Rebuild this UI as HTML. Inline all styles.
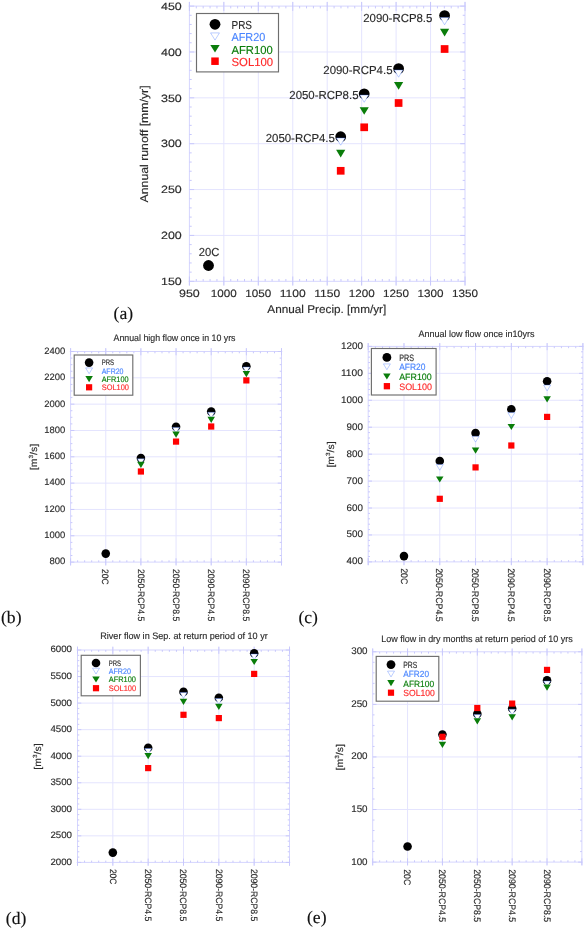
<!DOCTYPE html>
<html><head><meta charset="utf-8"><title>Figure</title>
<style>
html,body{margin:0;padding:0;background:#fff;}
body{width:585px;height:928px;overflow:hidden;font-family:"Liberation Sans",sans-serif;}
svg{display:block;}

</style></head><body>
<svg width="585" height="928" viewBox="0 0 585 928">
<rect width="585" height="928" fill="#fff"/>
<g opacity="0.999">
<line x1="223.85" y1="1.90" x2="223.85" y2="285.50" stroke="#e4e4fe" stroke-width="1"/>
<line x1="258.30" y1="1.90" x2="258.30" y2="285.50" stroke="#e4e4fe" stroke-width="1"/>
<line x1="292.75" y1="1.90" x2="292.75" y2="285.50" stroke="#e4e4fe" stroke-width="1"/>
<line x1="327.20" y1="1.90" x2="327.20" y2="285.50" stroke="#e4e4fe" stroke-width="1"/>
<line x1="361.65" y1="1.90" x2="361.65" y2="285.50" stroke="#e4e4fe" stroke-width="1"/>
<line x1="396.10" y1="1.90" x2="396.10" y2="285.50" stroke="#e4e4fe" stroke-width="1"/>
<line x1="430.55" y1="1.90" x2="430.55" y2="285.50" stroke="#e4e4fe" stroke-width="1"/>
<line x1="189.40" y1="235.43" x2="465.00" y2="235.43" stroke="#e4e4fe" stroke-width="1"/>
<line x1="189.40" y1="189.57" x2="465.00" y2="189.57" stroke="#e4e4fe" stroke-width="1"/>
<line x1="189.40" y1="143.70" x2="465.00" y2="143.70" stroke="#e4e4fe" stroke-width="1"/>
<line x1="189.40" y1="97.83" x2="465.00" y2="97.83" stroke="#e4e4fe" stroke-width="1"/>
<line x1="189.40" y1="51.97" x2="465.00" y2="51.97" stroke="#e4e4fe" stroke-width="1"/>
<line x1="189.40" y1="1.90" x2="189.40" y2="285.50" stroke="#d5d5fe" stroke-width="1"/>
<line x1="465.00" y1="1.90" x2="465.00" y2="285.50" stroke="#d5d5fe" stroke-width="1"/>
<line x1="188.60" y1="6.10" x2="465.80" y2="6.10" stroke="#d5d5fe" stroke-width="1"/>
<line x1="188.60" y1="281.30" x2="465.80" y2="281.30" stroke="#d5d5fe" stroke-width="1"/>
<line x1="189.40" y1="281.30" x2="194.20" y2="281.30" stroke="#c8c8fc" stroke-width="1"/>
<line x1="465.00" y1="281.30" x2="460.20" y2="281.30" stroke="#c8c8fc" stroke-width="1"/>
<line x1="189.40" y1="235.43" x2="194.20" y2="235.43" stroke="#c8c8fc" stroke-width="1"/>
<line x1="465.00" y1="235.43" x2="460.20" y2="235.43" stroke="#c8c8fc" stroke-width="1"/>
<line x1="189.40" y1="189.57" x2="194.20" y2="189.57" stroke="#c8c8fc" stroke-width="1"/>
<line x1="465.00" y1="189.57" x2="460.20" y2="189.57" stroke="#c8c8fc" stroke-width="1"/>
<line x1="189.40" y1="143.70" x2="194.20" y2="143.70" stroke="#c8c8fc" stroke-width="1"/>
<line x1="465.00" y1="143.70" x2="460.20" y2="143.70" stroke="#c8c8fc" stroke-width="1"/>
<line x1="189.40" y1="97.83" x2="194.20" y2="97.83" stroke="#c8c8fc" stroke-width="1"/>
<line x1="465.00" y1="97.83" x2="460.20" y2="97.83" stroke="#c8c8fc" stroke-width="1"/>
<line x1="189.40" y1="51.97" x2="194.20" y2="51.97" stroke="#c8c8fc" stroke-width="1"/>
<line x1="465.00" y1="51.97" x2="460.20" y2="51.97" stroke="#c8c8fc" stroke-width="1"/>
<line x1="189.40" y1="6.10" x2="194.20" y2="6.10" stroke="#c8c8fc" stroke-width="1"/>
<line x1="465.00" y1="6.10" x2="460.20" y2="6.10" stroke="#c8c8fc" stroke-width="1"/>
<line x1="189.40" y1="1.90" x2="189.40" y2="10.90" stroke="#c8c8fc" stroke-width="1"/>
<line x1="189.40" y1="285.50" x2="189.40" y2="276.50" stroke="#c8c8fc" stroke-width="1"/>
<line x1="223.85" y1="1.90" x2="223.85" y2="10.90" stroke="#c8c8fc" stroke-width="1"/>
<line x1="223.85" y1="285.50" x2="223.85" y2="276.50" stroke="#c8c8fc" stroke-width="1"/>
<line x1="258.30" y1="1.90" x2="258.30" y2="10.90" stroke="#c8c8fc" stroke-width="1"/>
<line x1="258.30" y1="285.50" x2="258.30" y2="276.50" stroke="#c8c8fc" stroke-width="1"/>
<line x1="292.75" y1="1.90" x2="292.75" y2="10.90" stroke="#c8c8fc" stroke-width="1"/>
<line x1="292.75" y1="285.50" x2="292.75" y2="276.50" stroke="#c8c8fc" stroke-width="1"/>
<line x1="327.20" y1="1.90" x2="327.20" y2="10.90" stroke="#c8c8fc" stroke-width="1"/>
<line x1="327.20" y1="285.50" x2="327.20" y2="276.50" stroke="#c8c8fc" stroke-width="1"/>
<line x1="361.65" y1="1.90" x2="361.65" y2="10.90" stroke="#c8c8fc" stroke-width="1"/>
<line x1="361.65" y1="285.50" x2="361.65" y2="276.50" stroke="#c8c8fc" stroke-width="1"/>
<line x1="396.10" y1="1.90" x2="396.10" y2="10.90" stroke="#c8c8fc" stroke-width="1"/>
<line x1="396.10" y1="285.50" x2="396.10" y2="276.50" stroke="#c8c8fc" stroke-width="1"/>
<line x1="430.55" y1="1.90" x2="430.55" y2="10.90" stroke="#c8c8fc" stroke-width="1"/>
<line x1="430.55" y1="285.50" x2="430.55" y2="276.50" stroke="#c8c8fc" stroke-width="1"/>
<line x1="465.00" y1="1.90" x2="465.00" y2="10.90" stroke="#c8c8fc" stroke-width="1"/>
<line x1="465.00" y1="285.50" x2="465.00" y2="276.50" stroke="#c8c8fc" stroke-width="1"/>
<line x1="189.40" y1="272.13" x2="191.70" y2="272.13" stroke="#c8c8fc" stroke-width="1"/>
<line x1="465.00" y1="272.13" x2="462.70" y2="272.13" stroke="#c8c8fc" stroke-width="1"/>
<line x1="189.40" y1="262.95" x2="191.70" y2="262.95" stroke="#c8c8fc" stroke-width="1"/>
<line x1="465.00" y1="262.95" x2="462.70" y2="262.95" stroke="#c8c8fc" stroke-width="1"/>
<line x1="189.40" y1="253.78" x2="191.70" y2="253.78" stroke="#c8c8fc" stroke-width="1"/>
<line x1="465.00" y1="253.78" x2="462.70" y2="253.78" stroke="#c8c8fc" stroke-width="1"/>
<line x1="189.40" y1="244.61" x2="191.70" y2="244.61" stroke="#c8c8fc" stroke-width="1"/>
<line x1="465.00" y1="244.61" x2="462.70" y2="244.61" stroke="#c8c8fc" stroke-width="1"/>
<line x1="189.40" y1="226.26" x2="191.70" y2="226.26" stroke="#c8c8fc" stroke-width="1"/>
<line x1="465.00" y1="226.26" x2="462.70" y2="226.26" stroke="#c8c8fc" stroke-width="1"/>
<line x1="189.40" y1="217.09" x2="191.70" y2="217.09" stroke="#c8c8fc" stroke-width="1"/>
<line x1="465.00" y1="217.09" x2="462.70" y2="217.09" stroke="#c8c8fc" stroke-width="1"/>
<line x1="189.40" y1="207.91" x2="191.70" y2="207.91" stroke="#c8c8fc" stroke-width="1"/>
<line x1="465.00" y1="207.91" x2="462.70" y2="207.91" stroke="#c8c8fc" stroke-width="1"/>
<line x1="189.40" y1="198.74" x2="191.70" y2="198.74" stroke="#c8c8fc" stroke-width="1"/>
<line x1="465.00" y1="198.74" x2="462.70" y2="198.74" stroke="#c8c8fc" stroke-width="1"/>
<line x1="189.40" y1="180.39" x2="191.70" y2="180.39" stroke="#c8c8fc" stroke-width="1"/>
<line x1="465.00" y1="180.39" x2="462.70" y2="180.39" stroke="#c8c8fc" stroke-width="1"/>
<line x1="189.40" y1="171.22" x2="191.70" y2="171.22" stroke="#c8c8fc" stroke-width="1"/>
<line x1="465.00" y1="171.22" x2="462.70" y2="171.22" stroke="#c8c8fc" stroke-width="1"/>
<line x1="189.40" y1="162.05" x2="191.70" y2="162.05" stroke="#c8c8fc" stroke-width="1"/>
<line x1="465.00" y1="162.05" x2="462.70" y2="162.05" stroke="#c8c8fc" stroke-width="1"/>
<line x1="189.40" y1="152.87" x2="191.70" y2="152.87" stroke="#c8c8fc" stroke-width="1"/>
<line x1="465.00" y1="152.87" x2="462.70" y2="152.87" stroke="#c8c8fc" stroke-width="1"/>
<line x1="189.40" y1="134.53" x2="191.70" y2="134.53" stroke="#c8c8fc" stroke-width="1"/>
<line x1="465.00" y1="134.53" x2="462.70" y2="134.53" stroke="#c8c8fc" stroke-width="1"/>
<line x1="189.40" y1="125.35" x2="191.70" y2="125.35" stroke="#c8c8fc" stroke-width="1"/>
<line x1="465.00" y1="125.35" x2="462.70" y2="125.35" stroke="#c8c8fc" stroke-width="1"/>
<line x1="189.40" y1="116.18" x2="191.70" y2="116.18" stroke="#c8c8fc" stroke-width="1"/>
<line x1="465.00" y1="116.18" x2="462.70" y2="116.18" stroke="#c8c8fc" stroke-width="1"/>
<line x1="189.40" y1="107.01" x2="191.70" y2="107.01" stroke="#c8c8fc" stroke-width="1"/>
<line x1="465.00" y1="107.01" x2="462.70" y2="107.01" stroke="#c8c8fc" stroke-width="1"/>
<line x1="189.40" y1="88.66" x2="191.70" y2="88.66" stroke="#c8c8fc" stroke-width="1"/>
<line x1="465.00" y1="88.66" x2="462.70" y2="88.66" stroke="#c8c8fc" stroke-width="1"/>
<line x1="189.40" y1="79.49" x2="191.70" y2="79.49" stroke="#c8c8fc" stroke-width="1"/>
<line x1="465.00" y1="79.49" x2="462.70" y2="79.49" stroke="#c8c8fc" stroke-width="1"/>
<line x1="189.40" y1="70.31" x2="191.70" y2="70.31" stroke="#c8c8fc" stroke-width="1"/>
<line x1="465.00" y1="70.31" x2="462.70" y2="70.31" stroke="#c8c8fc" stroke-width="1"/>
<line x1="189.40" y1="61.14" x2="191.70" y2="61.14" stroke="#c8c8fc" stroke-width="1"/>
<line x1="465.00" y1="61.14" x2="462.70" y2="61.14" stroke="#c8c8fc" stroke-width="1"/>
<line x1="189.40" y1="42.79" x2="191.70" y2="42.79" stroke="#c8c8fc" stroke-width="1"/>
<line x1="465.00" y1="42.79" x2="462.70" y2="42.79" stroke="#c8c8fc" stroke-width="1"/>
<line x1="189.40" y1="33.62" x2="191.70" y2="33.62" stroke="#c8c8fc" stroke-width="1"/>
<line x1="465.00" y1="33.62" x2="462.70" y2="33.62" stroke="#c8c8fc" stroke-width="1"/>
<line x1="189.40" y1="24.45" x2="191.70" y2="24.45" stroke="#c8c8fc" stroke-width="1"/>
<line x1="465.00" y1="24.45" x2="462.70" y2="24.45" stroke="#c8c8fc" stroke-width="1"/>
<line x1="189.40" y1="15.27" x2="191.70" y2="15.27" stroke="#c8c8fc" stroke-width="1"/>
<line x1="465.00" y1="15.27" x2="462.70" y2="15.27" stroke="#c8c8fc" stroke-width="1"/>
<line x1="196.29" y1="6.10" x2="196.29" y2="8.40" stroke="#c8c8fc" stroke-width="1"/>
<line x1="196.29" y1="281.30" x2="196.29" y2="279.00" stroke="#c8c8fc" stroke-width="1"/>
<line x1="203.18" y1="6.10" x2="203.18" y2="8.40" stroke="#c8c8fc" stroke-width="1"/>
<line x1="203.18" y1="281.30" x2="203.18" y2="279.00" stroke="#c8c8fc" stroke-width="1"/>
<line x1="210.07" y1="6.10" x2="210.07" y2="8.40" stroke="#c8c8fc" stroke-width="1"/>
<line x1="210.07" y1="281.30" x2="210.07" y2="279.00" stroke="#c8c8fc" stroke-width="1"/>
<line x1="216.96" y1="6.10" x2="216.96" y2="8.40" stroke="#c8c8fc" stroke-width="1"/>
<line x1="216.96" y1="281.30" x2="216.96" y2="279.00" stroke="#c8c8fc" stroke-width="1"/>
<line x1="230.74" y1="6.10" x2="230.74" y2="8.40" stroke="#c8c8fc" stroke-width="1"/>
<line x1="230.74" y1="281.30" x2="230.74" y2="279.00" stroke="#c8c8fc" stroke-width="1"/>
<line x1="237.63" y1="6.10" x2="237.63" y2="8.40" stroke="#c8c8fc" stroke-width="1"/>
<line x1="237.63" y1="281.30" x2="237.63" y2="279.00" stroke="#c8c8fc" stroke-width="1"/>
<line x1="244.52" y1="6.10" x2="244.52" y2="8.40" stroke="#c8c8fc" stroke-width="1"/>
<line x1="244.52" y1="281.30" x2="244.52" y2="279.00" stroke="#c8c8fc" stroke-width="1"/>
<line x1="251.41" y1="6.10" x2="251.41" y2="8.40" stroke="#c8c8fc" stroke-width="1"/>
<line x1="251.41" y1="281.30" x2="251.41" y2="279.00" stroke="#c8c8fc" stroke-width="1"/>
<line x1="265.19" y1="6.10" x2="265.19" y2="8.40" stroke="#c8c8fc" stroke-width="1"/>
<line x1="265.19" y1="281.30" x2="265.19" y2="279.00" stroke="#c8c8fc" stroke-width="1"/>
<line x1="272.08" y1="6.10" x2="272.08" y2="8.40" stroke="#c8c8fc" stroke-width="1"/>
<line x1="272.08" y1="281.30" x2="272.08" y2="279.00" stroke="#c8c8fc" stroke-width="1"/>
<line x1="278.97" y1="6.10" x2="278.97" y2="8.40" stroke="#c8c8fc" stroke-width="1"/>
<line x1="278.97" y1="281.30" x2="278.97" y2="279.00" stroke="#c8c8fc" stroke-width="1"/>
<line x1="285.86" y1="6.10" x2="285.86" y2="8.40" stroke="#c8c8fc" stroke-width="1"/>
<line x1="285.86" y1="281.30" x2="285.86" y2="279.00" stroke="#c8c8fc" stroke-width="1"/>
<line x1="299.64" y1="6.10" x2="299.64" y2="8.40" stroke="#c8c8fc" stroke-width="1"/>
<line x1="299.64" y1="281.30" x2="299.64" y2="279.00" stroke="#c8c8fc" stroke-width="1"/>
<line x1="306.53" y1="6.10" x2="306.53" y2="8.40" stroke="#c8c8fc" stroke-width="1"/>
<line x1="306.53" y1="281.30" x2="306.53" y2="279.00" stroke="#c8c8fc" stroke-width="1"/>
<line x1="313.42" y1="6.10" x2="313.42" y2="8.40" stroke="#c8c8fc" stroke-width="1"/>
<line x1="313.42" y1="281.30" x2="313.42" y2="279.00" stroke="#c8c8fc" stroke-width="1"/>
<line x1="320.31" y1="6.10" x2="320.31" y2="8.40" stroke="#c8c8fc" stroke-width="1"/>
<line x1="320.31" y1="281.30" x2="320.31" y2="279.00" stroke="#c8c8fc" stroke-width="1"/>
<line x1="334.09" y1="6.10" x2="334.09" y2="8.40" stroke="#c8c8fc" stroke-width="1"/>
<line x1="334.09" y1="281.30" x2="334.09" y2="279.00" stroke="#c8c8fc" stroke-width="1"/>
<line x1="340.98" y1="6.10" x2="340.98" y2="8.40" stroke="#c8c8fc" stroke-width="1"/>
<line x1="340.98" y1="281.30" x2="340.98" y2="279.00" stroke="#c8c8fc" stroke-width="1"/>
<line x1="347.87" y1="6.10" x2="347.87" y2="8.40" stroke="#c8c8fc" stroke-width="1"/>
<line x1="347.87" y1="281.30" x2="347.87" y2="279.00" stroke="#c8c8fc" stroke-width="1"/>
<line x1="354.76" y1="6.10" x2="354.76" y2="8.40" stroke="#c8c8fc" stroke-width="1"/>
<line x1="354.76" y1="281.30" x2="354.76" y2="279.00" stroke="#c8c8fc" stroke-width="1"/>
<line x1="368.54" y1="6.10" x2="368.54" y2="8.40" stroke="#c8c8fc" stroke-width="1"/>
<line x1="368.54" y1="281.30" x2="368.54" y2="279.00" stroke="#c8c8fc" stroke-width="1"/>
<line x1="375.43" y1="6.10" x2="375.43" y2="8.40" stroke="#c8c8fc" stroke-width="1"/>
<line x1="375.43" y1="281.30" x2="375.43" y2="279.00" stroke="#c8c8fc" stroke-width="1"/>
<line x1="382.32" y1="6.10" x2="382.32" y2="8.40" stroke="#c8c8fc" stroke-width="1"/>
<line x1="382.32" y1="281.30" x2="382.32" y2="279.00" stroke="#c8c8fc" stroke-width="1"/>
<line x1="389.21" y1="6.10" x2="389.21" y2="8.40" stroke="#c8c8fc" stroke-width="1"/>
<line x1="389.21" y1="281.30" x2="389.21" y2="279.00" stroke="#c8c8fc" stroke-width="1"/>
<line x1="402.99" y1="6.10" x2="402.99" y2="8.40" stroke="#c8c8fc" stroke-width="1"/>
<line x1="402.99" y1="281.30" x2="402.99" y2="279.00" stroke="#c8c8fc" stroke-width="1"/>
<line x1="409.88" y1="6.10" x2="409.88" y2="8.40" stroke="#c8c8fc" stroke-width="1"/>
<line x1="409.88" y1="281.30" x2="409.88" y2="279.00" stroke="#c8c8fc" stroke-width="1"/>
<line x1="416.77" y1="6.10" x2="416.77" y2="8.40" stroke="#c8c8fc" stroke-width="1"/>
<line x1="416.77" y1="281.30" x2="416.77" y2="279.00" stroke="#c8c8fc" stroke-width="1"/>
<line x1="423.66" y1="6.10" x2="423.66" y2="8.40" stroke="#c8c8fc" stroke-width="1"/>
<line x1="423.66" y1="281.30" x2="423.66" y2="279.00" stroke="#c8c8fc" stroke-width="1"/>
<line x1="437.44" y1="6.10" x2="437.44" y2="8.40" stroke="#c8c8fc" stroke-width="1"/>
<line x1="437.44" y1="281.30" x2="437.44" y2="279.00" stroke="#c8c8fc" stroke-width="1"/>
<line x1="444.33" y1="6.10" x2="444.33" y2="8.40" stroke="#c8c8fc" stroke-width="1"/>
<line x1="444.33" y1="281.30" x2="444.33" y2="279.00" stroke="#c8c8fc" stroke-width="1"/>
<line x1="451.22" y1="6.10" x2="451.22" y2="8.40" stroke="#c8c8fc" stroke-width="1"/>
<line x1="451.22" y1="281.30" x2="451.22" y2="279.00" stroke="#c8c8fc" stroke-width="1"/>
<line x1="458.11" y1="6.10" x2="458.11" y2="8.40" stroke="#c8c8fc" stroke-width="1"/>
<line x1="458.11" y1="281.30" x2="458.11" y2="279.00" stroke="#c8c8fc" stroke-width="1"/>
<text x="181.80" y="285.00" font-size="10.6" text-anchor="end" fill="#2b2b2b" stroke="#2b2b2b" stroke-width="0.15" font-family="Liberation Sans" text-rendering="geometricPrecision" textLength="20.80" lengthAdjust="spacingAndGlyphs">150</text>
<text x="181.80" y="239.13" font-size="10.6" text-anchor="end" fill="#2b2b2b" stroke="#2b2b2b" stroke-width="0.15" font-family="Liberation Sans" text-rendering="geometricPrecision" textLength="20.80" lengthAdjust="spacingAndGlyphs">200</text>
<text x="181.80" y="193.27" font-size="10.6" text-anchor="end" fill="#2b2b2b" stroke="#2b2b2b" stroke-width="0.15" font-family="Liberation Sans" text-rendering="geometricPrecision" textLength="20.80" lengthAdjust="spacingAndGlyphs">250</text>
<text x="181.80" y="147.40" font-size="10.6" text-anchor="end" fill="#2b2b2b" stroke="#2b2b2b" stroke-width="0.15" font-family="Liberation Sans" text-rendering="geometricPrecision" textLength="20.80" lengthAdjust="spacingAndGlyphs">300</text>
<text x="181.80" y="101.53" font-size="10.6" text-anchor="end" fill="#2b2b2b" stroke="#2b2b2b" stroke-width="0.15" font-family="Liberation Sans" text-rendering="geometricPrecision" textLength="20.80" lengthAdjust="spacingAndGlyphs">350</text>
<text x="181.80" y="55.67" font-size="10.6" text-anchor="end" fill="#2b2b2b" stroke="#2b2b2b" stroke-width="0.15" font-family="Liberation Sans" text-rendering="geometricPrecision" textLength="20.80" lengthAdjust="spacingAndGlyphs">400</text>
<text x="181.80" y="9.80" font-size="10.6" text-anchor="end" fill="#2b2b2b" stroke="#2b2b2b" stroke-width="0.15" font-family="Liberation Sans" text-rendering="geometricPrecision" textLength="20.80" lengthAdjust="spacingAndGlyphs">450</text>
<text x="189.40" y="296.50" font-size="10.6" text-anchor="middle" fill="#2b2b2b" stroke="#2b2b2b" stroke-width="0.15" font-family="Liberation Sans" text-rendering="geometricPrecision" textLength="20.80" lengthAdjust="spacingAndGlyphs">950</text>
<text x="223.85" y="296.50" font-size="10.6" text-anchor="middle" fill="#2b2b2b" stroke="#2b2b2b" stroke-width="0.15" font-family="Liberation Sans" text-rendering="geometricPrecision" textLength="26.00" lengthAdjust="spacingAndGlyphs">1000</text>
<text x="258.30" y="296.50" font-size="10.6" text-anchor="middle" fill="#2b2b2b" stroke="#2b2b2b" stroke-width="0.15" font-family="Liberation Sans" text-rendering="geometricPrecision" textLength="26.00" lengthAdjust="spacingAndGlyphs">1050</text>
<text x="292.75" y="296.50" font-size="10.6" text-anchor="middle" fill="#2b2b2b" stroke="#2b2b2b" stroke-width="0.15" font-family="Liberation Sans" text-rendering="geometricPrecision" textLength="26.00" lengthAdjust="spacingAndGlyphs">1100</text>
<text x="327.20" y="296.50" font-size="10.6" text-anchor="middle" fill="#2b2b2b" stroke="#2b2b2b" stroke-width="0.15" font-family="Liberation Sans" text-rendering="geometricPrecision" textLength="26.00" lengthAdjust="spacingAndGlyphs">1150</text>
<text x="361.65" y="296.50" font-size="10.6" text-anchor="middle" fill="#2b2b2b" stroke="#2b2b2b" stroke-width="0.15" font-family="Liberation Sans" text-rendering="geometricPrecision" textLength="26.00" lengthAdjust="spacingAndGlyphs">1200</text>
<text x="396.10" y="296.50" font-size="10.6" text-anchor="middle" fill="#2b2b2b" stroke="#2b2b2b" stroke-width="0.15" font-family="Liberation Sans" text-rendering="geometricPrecision" textLength="26.00" lengthAdjust="spacingAndGlyphs">1250</text>
<text x="430.55" y="296.50" font-size="10.6" text-anchor="middle" fill="#2b2b2b" stroke="#2b2b2b" stroke-width="0.15" font-family="Liberation Sans" text-rendering="geometricPrecision" textLength="26.00" lengthAdjust="spacingAndGlyphs">1300</text>
<text x="465.00" y="296.50" font-size="10.6" text-anchor="middle" fill="#2b2b2b" stroke="#2b2b2b" stroke-width="0.15" font-family="Liberation Sans" text-rendering="geometricPrecision" textLength="26.00" lengthAdjust="spacingAndGlyphs">1350</text>
<text x="147.90" y="143.90" font-size="11.3" text-anchor="middle" fill="#2b2b2b" stroke="#2b2b2b" stroke-width="0.15" font-family="Liberation Sans" text-rendering="geometricPrecision" textLength="117.00" lengthAdjust="spacingAndGlyphs" transform="rotate(-90 147.90 143.90)">Annual runoff [mm/yr]</text>
<text x="326.80" y="312.60" font-size="11.3" text-anchor="middle" fill="#2b2b2b" stroke="#2b2b2b" stroke-width="0.15" font-family="Liberation Sans" text-rendering="geometricPrecision" textLength="119.00" lengthAdjust="spacingAndGlyphs">Annual Precip. [mm/yr]</text>
<text x="198.70" y="255.60" font-size="11.6" text-anchor="start" fill="#2b2b2b" stroke="#2b2b2b" stroke-width="0.15" font-family="Liberation Sans" text-rendering="geometricPrecision" textLength="20.60" lengthAdjust="spacingAndGlyphs">20C</text>
<text x="334.90" y="142.00" font-size="11.6" text-anchor="end" fill="#2b2b2b" stroke="#2b2b2b" stroke-width="0.15" font-family="Liberation Sans" text-rendering="geometricPrecision" textLength="69.20" lengthAdjust="spacingAndGlyphs">2050-RCP4.5</text>
<text x="358.50" y="99.00" font-size="11.6" text-anchor="end" fill="#2b2b2b" stroke="#2b2b2b" stroke-width="0.15" font-family="Liberation Sans" text-rendering="geometricPrecision" textLength="69.20" lengthAdjust="spacingAndGlyphs">2050-RCP8.5</text>
<text x="392.50" y="74.00" font-size="11.6" text-anchor="end" fill="#2b2b2b" stroke="#2b2b2b" stroke-width="0.15" font-family="Liberation Sans" text-rendering="geometricPrecision" textLength="69.20" lengthAdjust="spacingAndGlyphs">2090-RCP4.5</text>
<text x="432.40" y="21.90" font-size="11.6" text-anchor="end" fill="#2b2b2b" stroke="#2b2b2b" stroke-width="0.15" font-family="Liberation Sans" text-rendering="geometricPrecision" textLength="69.20" lengthAdjust="spacingAndGlyphs">2090-RCP8.5</text>
<rect x="196.50" y="13.50" width="82.00" height="58.40" fill="#fff" stroke="#6e6e6e" stroke-width="1.15"/>
<circle cx="215.00" cy="24.30" r="5.40" fill="#000"/>
<polygon points="210.55,32.90 219.45,32.90 215.00,40.10" fill="#fff" stroke="rgba(70,120,255,0.36)" stroke-width="1.0" stroke-linejoin="miter"/>
<polygon points="210.30,45.00 219.70,45.00 215.00,52.60" fill="#0a7d0a"/>
<rect x="211.25" y="57.45" width="7.50" height="7.50" fill="#ff0000"/>
<text x="231.50" y="29.00" font-size="11.6" text-anchor="start" fill="#2b2b2b" stroke="#2b2b2b" stroke-width="0.15" font-family="Liberation Sans" text-rendering="geometricPrecision" textLength="20.50" lengthAdjust="spacingAndGlyphs">PRS</text>
<text x="231.50" y="41.30" font-size="11.6" text-anchor="start" fill="#4a86ff" stroke="#4a86ff" stroke-width="0.15" font-family="Liberation Sans" text-rendering="geometricPrecision" textLength="33.80" lengthAdjust="spacingAndGlyphs">AFR20</text>
<text x="231.50" y="53.60" font-size="11.6" text-anchor="start" fill="#0a7d0a" stroke="#0a7d0a" stroke-width="0.15" font-family="Liberation Sans" text-rendering="geometricPrecision" textLength="41.20" lengthAdjust="spacingAndGlyphs">AFR100</text>
<text x="231.50" y="65.90" font-size="11.6" text-anchor="start" fill="#ff2a2a" stroke="#ff2a2a" stroke-width="0.15" font-family="Liberation Sans" text-rendering="geometricPrecision" textLength="41.60" lengthAdjust="spacingAndGlyphs">SOL100</text>
<circle cx="208.50" cy="265.50" r="5.40" fill="#000"/>
<circle cx="340.70" cy="136.70" r="5.40" fill="#000"/>
<polygon points="336.35,138.00 345.05,138.00 340.70,145.20" fill="#fff" stroke="rgba(70,120,255,0.36)" stroke-width="1.0" stroke-linejoin="miter"/>
<polygon points="336.10,149.80 345.30,149.80 340.70,157.40" fill="#0a7d0a"/>
<rect x="336.85" y="166.95" width="7.70" height="7.70" fill="#ff0000"/>
<circle cx="364.20" cy="93.80" r="5.40" fill="#000"/>
<polygon points="359.85,95.10 368.55,95.10 364.20,102.30" fill="#fff" stroke="rgba(70,120,255,0.36)" stroke-width="1.0" stroke-linejoin="miter"/>
<polygon points="359.60,107.20 368.80,107.20 364.20,114.80" fill="#0a7d0a"/>
<rect x="360.35" y="123.45" width="7.70" height="7.70" fill="#ff0000"/>
<circle cx="398.60" cy="68.60" r="5.40" fill="#000"/>
<polygon points="394.25,70.00 402.95,70.00 398.60,77.20" fill="#fff" stroke="rgba(70,120,255,0.36)" stroke-width="1.0" stroke-linejoin="miter"/>
<polygon points="394.00,82.10 403.20,82.10 398.60,89.70" fill="#0a7d0a"/>
<rect x="394.75" y="99.15" width="7.70" height="7.70" fill="#ff0000"/>
<circle cx="444.60" cy="15.60" r="5.40" fill="#000"/>
<polygon points="440.25,17.60 448.95,17.60 444.60,24.80" fill="#fff" stroke="rgba(70,120,255,0.36)" stroke-width="1.0" stroke-linejoin="miter"/>
<polygon points="440.00,28.80 449.20,28.80 444.60,36.40" fill="#0a7d0a"/>
<rect x="440.75" y="45.15" width="7.70" height="7.70" fill="#ff0000"/>
<text x="113.60" y="319.20" font-size="17.6" text-anchor="start" fill="#111" stroke="#111" stroke-width="0.15" font-family="Liberation Serif" text-rendering="geometricPrecision">(a)</text>
<line x1="105.75" y1="348.20" x2="105.75" y2="565.40" stroke="#e4e4fe" stroke-width="1"/>
<line x1="140.90" y1="348.20" x2="140.90" y2="565.40" stroke="#e4e4fe" stroke-width="1"/>
<line x1="176.05" y1="348.20" x2="176.05" y2="565.40" stroke="#e4e4fe" stroke-width="1"/>
<line x1="211.20" y1="348.20" x2="211.20" y2="565.40" stroke="#e4e4fe" stroke-width="1"/>
<line x1="246.35" y1="348.20" x2="246.35" y2="565.40" stroke="#e4e4fe" stroke-width="1"/>
<line x1="70.60" y1="535.77" x2="281.50" y2="535.77" stroke="#e4e4fe" stroke-width="1"/>
<line x1="70.60" y1="509.45" x2="281.50" y2="509.45" stroke="#e4e4fe" stroke-width="1"/>
<line x1="70.60" y1="483.12" x2="281.50" y2="483.12" stroke="#e4e4fe" stroke-width="1"/>
<line x1="70.60" y1="456.80" x2="281.50" y2="456.80" stroke="#e4e4fe" stroke-width="1"/>
<line x1="70.60" y1="430.48" x2="281.50" y2="430.48" stroke="#e4e4fe" stroke-width="1"/>
<line x1="70.60" y1="404.15" x2="281.50" y2="404.15" stroke="#e4e4fe" stroke-width="1"/>
<line x1="70.60" y1="377.82" x2="281.50" y2="377.82" stroke="#e4e4fe" stroke-width="1"/>
<line x1="70.60" y1="348.20" x2="70.60" y2="565.40" stroke="#d5d5fe" stroke-width="1"/>
<line x1="281.50" y1="348.20" x2="281.50" y2="565.40" stroke="#d5d5fe" stroke-width="1"/>
<line x1="69.80" y1="351.50" x2="282.30" y2="351.50" stroke="#d5d5fe" stroke-width="1"/>
<line x1="69.80" y1="562.10" x2="282.30" y2="562.10" stroke="#d5d5fe" stroke-width="1"/>
<line x1="70.60" y1="562.10" x2="74.40" y2="562.10" stroke="#c8c8fc" stroke-width="1"/>
<line x1="281.50" y1="562.10" x2="277.70" y2="562.10" stroke="#c8c8fc" stroke-width="1"/>
<line x1="70.60" y1="535.77" x2="74.40" y2="535.77" stroke="#c8c8fc" stroke-width="1"/>
<line x1="281.50" y1="535.77" x2="277.70" y2="535.77" stroke="#c8c8fc" stroke-width="1"/>
<line x1="70.60" y1="509.45" x2="74.40" y2="509.45" stroke="#c8c8fc" stroke-width="1"/>
<line x1="281.50" y1="509.45" x2="277.70" y2="509.45" stroke="#c8c8fc" stroke-width="1"/>
<line x1="70.60" y1="483.12" x2="74.40" y2="483.12" stroke="#c8c8fc" stroke-width="1"/>
<line x1="281.50" y1="483.12" x2="277.70" y2="483.12" stroke="#c8c8fc" stroke-width="1"/>
<line x1="70.60" y1="456.80" x2="74.40" y2="456.80" stroke="#c8c8fc" stroke-width="1"/>
<line x1="281.50" y1="456.80" x2="277.70" y2="456.80" stroke="#c8c8fc" stroke-width="1"/>
<line x1="70.60" y1="430.48" x2="74.40" y2="430.48" stroke="#c8c8fc" stroke-width="1"/>
<line x1="281.50" y1="430.48" x2="277.70" y2="430.48" stroke="#c8c8fc" stroke-width="1"/>
<line x1="70.60" y1="404.15" x2="74.40" y2="404.15" stroke="#c8c8fc" stroke-width="1"/>
<line x1="281.50" y1="404.15" x2="277.70" y2="404.15" stroke="#c8c8fc" stroke-width="1"/>
<line x1="70.60" y1="377.82" x2="74.40" y2="377.82" stroke="#c8c8fc" stroke-width="1"/>
<line x1="281.50" y1="377.82" x2="277.70" y2="377.82" stroke="#c8c8fc" stroke-width="1"/>
<line x1="70.60" y1="351.50" x2="74.40" y2="351.50" stroke="#c8c8fc" stroke-width="1"/>
<line x1="281.50" y1="351.50" x2="277.70" y2="351.50" stroke="#c8c8fc" stroke-width="1"/>
<line x1="70.60" y1="348.20" x2="70.60" y2="355.30" stroke="#c8c8fc" stroke-width="1"/>
<line x1="70.60" y1="565.40" x2="70.60" y2="558.30" stroke="#c8c8fc" stroke-width="1"/>
<line x1="105.75" y1="348.20" x2="105.75" y2="355.30" stroke="#c8c8fc" stroke-width="1"/>
<line x1="105.75" y1="565.40" x2="105.75" y2="558.30" stroke="#c8c8fc" stroke-width="1"/>
<line x1="140.90" y1="348.20" x2="140.90" y2="355.30" stroke="#c8c8fc" stroke-width="1"/>
<line x1="140.90" y1="565.40" x2="140.90" y2="558.30" stroke="#c8c8fc" stroke-width="1"/>
<line x1="176.05" y1="348.20" x2="176.05" y2="355.30" stroke="#c8c8fc" stroke-width="1"/>
<line x1="176.05" y1="565.40" x2="176.05" y2="558.30" stroke="#c8c8fc" stroke-width="1"/>
<line x1="211.20" y1="348.20" x2="211.20" y2="355.30" stroke="#c8c8fc" stroke-width="1"/>
<line x1="211.20" y1="565.40" x2="211.20" y2="558.30" stroke="#c8c8fc" stroke-width="1"/>
<line x1="246.35" y1="348.20" x2="246.35" y2="355.30" stroke="#c8c8fc" stroke-width="1"/>
<line x1="246.35" y1="565.40" x2="246.35" y2="558.30" stroke="#c8c8fc" stroke-width="1"/>
<line x1="281.50" y1="348.20" x2="281.50" y2="355.30" stroke="#c8c8fc" stroke-width="1"/>
<line x1="281.50" y1="565.40" x2="281.50" y2="558.30" stroke="#c8c8fc" stroke-width="1"/>
<line x1="70.60" y1="555.52" x2="72.40" y2="555.52" stroke="#c8c8fc" stroke-width="1"/>
<line x1="281.50" y1="555.52" x2="279.70" y2="555.52" stroke="#c8c8fc" stroke-width="1"/>
<line x1="70.60" y1="548.94" x2="72.40" y2="548.94" stroke="#c8c8fc" stroke-width="1"/>
<line x1="281.50" y1="548.94" x2="279.70" y2="548.94" stroke="#c8c8fc" stroke-width="1"/>
<line x1="70.60" y1="542.36" x2="72.40" y2="542.36" stroke="#c8c8fc" stroke-width="1"/>
<line x1="281.50" y1="542.36" x2="279.70" y2="542.36" stroke="#c8c8fc" stroke-width="1"/>
<line x1="70.60" y1="529.19" x2="72.40" y2="529.19" stroke="#c8c8fc" stroke-width="1"/>
<line x1="281.50" y1="529.19" x2="279.70" y2="529.19" stroke="#c8c8fc" stroke-width="1"/>
<line x1="70.60" y1="522.61" x2="72.40" y2="522.61" stroke="#c8c8fc" stroke-width="1"/>
<line x1="281.50" y1="522.61" x2="279.70" y2="522.61" stroke="#c8c8fc" stroke-width="1"/>
<line x1="70.60" y1="516.03" x2="72.40" y2="516.03" stroke="#c8c8fc" stroke-width="1"/>
<line x1="281.50" y1="516.03" x2="279.70" y2="516.03" stroke="#c8c8fc" stroke-width="1"/>
<line x1="70.60" y1="502.87" x2="72.40" y2="502.87" stroke="#c8c8fc" stroke-width="1"/>
<line x1="281.50" y1="502.87" x2="279.70" y2="502.87" stroke="#c8c8fc" stroke-width="1"/>
<line x1="70.60" y1="496.29" x2="72.40" y2="496.29" stroke="#c8c8fc" stroke-width="1"/>
<line x1="281.50" y1="496.29" x2="279.70" y2="496.29" stroke="#c8c8fc" stroke-width="1"/>
<line x1="70.60" y1="489.71" x2="72.40" y2="489.71" stroke="#c8c8fc" stroke-width="1"/>
<line x1="281.50" y1="489.71" x2="279.70" y2="489.71" stroke="#c8c8fc" stroke-width="1"/>
<line x1="70.60" y1="476.54" x2="72.40" y2="476.54" stroke="#c8c8fc" stroke-width="1"/>
<line x1="281.50" y1="476.54" x2="279.70" y2="476.54" stroke="#c8c8fc" stroke-width="1"/>
<line x1="70.60" y1="469.96" x2="72.40" y2="469.96" stroke="#c8c8fc" stroke-width="1"/>
<line x1="281.50" y1="469.96" x2="279.70" y2="469.96" stroke="#c8c8fc" stroke-width="1"/>
<line x1="70.60" y1="463.38" x2="72.40" y2="463.38" stroke="#c8c8fc" stroke-width="1"/>
<line x1="281.50" y1="463.38" x2="279.70" y2="463.38" stroke="#c8c8fc" stroke-width="1"/>
<line x1="70.60" y1="450.22" x2="72.40" y2="450.22" stroke="#c8c8fc" stroke-width="1"/>
<line x1="281.50" y1="450.22" x2="279.70" y2="450.22" stroke="#c8c8fc" stroke-width="1"/>
<line x1="70.60" y1="443.64" x2="72.40" y2="443.64" stroke="#c8c8fc" stroke-width="1"/>
<line x1="281.50" y1="443.64" x2="279.70" y2="443.64" stroke="#c8c8fc" stroke-width="1"/>
<line x1="70.60" y1="437.06" x2="72.40" y2="437.06" stroke="#c8c8fc" stroke-width="1"/>
<line x1="281.50" y1="437.06" x2="279.70" y2="437.06" stroke="#c8c8fc" stroke-width="1"/>
<line x1="70.60" y1="423.89" x2="72.40" y2="423.89" stroke="#c8c8fc" stroke-width="1"/>
<line x1="281.50" y1="423.89" x2="279.70" y2="423.89" stroke="#c8c8fc" stroke-width="1"/>
<line x1="70.60" y1="417.31" x2="72.40" y2="417.31" stroke="#c8c8fc" stroke-width="1"/>
<line x1="281.50" y1="417.31" x2="279.70" y2="417.31" stroke="#c8c8fc" stroke-width="1"/>
<line x1="70.60" y1="410.73" x2="72.40" y2="410.73" stroke="#c8c8fc" stroke-width="1"/>
<line x1="281.50" y1="410.73" x2="279.70" y2="410.73" stroke="#c8c8fc" stroke-width="1"/>
<line x1="70.60" y1="397.57" x2="72.40" y2="397.57" stroke="#c8c8fc" stroke-width="1"/>
<line x1="281.50" y1="397.57" x2="279.70" y2="397.57" stroke="#c8c8fc" stroke-width="1"/>
<line x1="70.60" y1="390.99" x2="72.40" y2="390.99" stroke="#c8c8fc" stroke-width="1"/>
<line x1="281.50" y1="390.99" x2="279.70" y2="390.99" stroke="#c8c8fc" stroke-width="1"/>
<line x1="70.60" y1="384.41" x2="72.40" y2="384.41" stroke="#c8c8fc" stroke-width="1"/>
<line x1="281.50" y1="384.41" x2="279.70" y2="384.41" stroke="#c8c8fc" stroke-width="1"/>
<line x1="70.60" y1="371.24" x2="72.40" y2="371.24" stroke="#c8c8fc" stroke-width="1"/>
<line x1="281.50" y1="371.24" x2="279.70" y2="371.24" stroke="#c8c8fc" stroke-width="1"/>
<line x1="70.60" y1="364.66" x2="72.40" y2="364.66" stroke="#c8c8fc" stroke-width="1"/>
<line x1="281.50" y1="364.66" x2="279.70" y2="364.66" stroke="#c8c8fc" stroke-width="1"/>
<line x1="70.60" y1="358.08" x2="72.40" y2="358.08" stroke="#c8c8fc" stroke-width="1"/>
<line x1="281.50" y1="358.08" x2="279.70" y2="358.08" stroke="#c8c8fc" stroke-width="1"/>
<line x1="77.63" y1="351.50" x2="77.63" y2="353.30" stroke="#c8c8fc" stroke-width="1"/>
<line x1="77.63" y1="562.10" x2="77.63" y2="560.30" stroke="#c8c8fc" stroke-width="1"/>
<line x1="84.66" y1="351.50" x2="84.66" y2="353.30" stroke="#c8c8fc" stroke-width="1"/>
<line x1="84.66" y1="562.10" x2="84.66" y2="560.30" stroke="#c8c8fc" stroke-width="1"/>
<line x1="91.69" y1="351.50" x2="91.69" y2="353.30" stroke="#c8c8fc" stroke-width="1"/>
<line x1="91.69" y1="562.10" x2="91.69" y2="560.30" stroke="#c8c8fc" stroke-width="1"/>
<line x1="98.72" y1="351.50" x2="98.72" y2="353.30" stroke="#c8c8fc" stroke-width="1"/>
<line x1="98.72" y1="562.10" x2="98.72" y2="560.30" stroke="#c8c8fc" stroke-width="1"/>
<line x1="112.78" y1="351.50" x2="112.78" y2="353.30" stroke="#c8c8fc" stroke-width="1"/>
<line x1="112.78" y1="562.10" x2="112.78" y2="560.30" stroke="#c8c8fc" stroke-width="1"/>
<line x1="119.81" y1="351.50" x2="119.81" y2="353.30" stroke="#c8c8fc" stroke-width="1"/>
<line x1="119.81" y1="562.10" x2="119.81" y2="560.30" stroke="#c8c8fc" stroke-width="1"/>
<line x1="126.84" y1="351.50" x2="126.84" y2="353.30" stroke="#c8c8fc" stroke-width="1"/>
<line x1="126.84" y1="562.10" x2="126.84" y2="560.30" stroke="#c8c8fc" stroke-width="1"/>
<line x1="133.87" y1="351.50" x2="133.87" y2="353.30" stroke="#c8c8fc" stroke-width="1"/>
<line x1="133.87" y1="562.10" x2="133.87" y2="560.30" stroke="#c8c8fc" stroke-width="1"/>
<line x1="147.93" y1="351.50" x2="147.93" y2="353.30" stroke="#c8c8fc" stroke-width="1"/>
<line x1="147.93" y1="562.10" x2="147.93" y2="560.30" stroke="#c8c8fc" stroke-width="1"/>
<line x1="154.96" y1="351.50" x2="154.96" y2="353.30" stroke="#c8c8fc" stroke-width="1"/>
<line x1="154.96" y1="562.10" x2="154.96" y2="560.30" stroke="#c8c8fc" stroke-width="1"/>
<line x1="161.99" y1="351.50" x2="161.99" y2="353.30" stroke="#c8c8fc" stroke-width="1"/>
<line x1="161.99" y1="562.10" x2="161.99" y2="560.30" stroke="#c8c8fc" stroke-width="1"/>
<line x1="169.02" y1="351.50" x2="169.02" y2="353.30" stroke="#c8c8fc" stroke-width="1"/>
<line x1="169.02" y1="562.10" x2="169.02" y2="560.30" stroke="#c8c8fc" stroke-width="1"/>
<line x1="183.08" y1="351.50" x2="183.08" y2="353.30" stroke="#c8c8fc" stroke-width="1"/>
<line x1="183.08" y1="562.10" x2="183.08" y2="560.30" stroke="#c8c8fc" stroke-width="1"/>
<line x1="190.11" y1="351.50" x2="190.11" y2="353.30" stroke="#c8c8fc" stroke-width="1"/>
<line x1="190.11" y1="562.10" x2="190.11" y2="560.30" stroke="#c8c8fc" stroke-width="1"/>
<line x1="197.14" y1="351.50" x2="197.14" y2="353.30" stroke="#c8c8fc" stroke-width="1"/>
<line x1="197.14" y1="562.10" x2="197.14" y2="560.30" stroke="#c8c8fc" stroke-width="1"/>
<line x1="204.17" y1="351.50" x2="204.17" y2="353.30" stroke="#c8c8fc" stroke-width="1"/>
<line x1="204.17" y1="562.10" x2="204.17" y2="560.30" stroke="#c8c8fc" stroke-width="1"/>
<line x1="218.23" y1="351.50" x2="218.23" y2="353.30" stroke="#c8c8fc" stroke-width="1"/>
<line x1="218.23" y1="562.10" x2="218.23" y2="560.30" stroke="#c8c8fc" stroke-width="1"/>
<line x1="225.26" y1="351.50" x2="225.26" y2="353.30" stroke="#c8c8fc" stroke-width="1"/>
<line x1="225.26" y1="562.10" x2="225.26" y2="560.30" stroke="#c8c8fc" stroke-width="1"/>
<line x1="232.29" y1="351.50" x2="232.29" y2="353.30" stroke="#c8c8fc" stroke-width="1"/>
<line x1="232.29" y1="562.10" x2="232.29" y2="560.30" stroke="#c8c8fc" stroke-width="1"/>
<line x1="239.32" y1="351.50" x2="239.32" y2="353.30" stroke="#c8c8fc" stroke-width="1"/>
<line x1="239.32" y1="562.10" x2="239.32" y2="560.30" stroke="#c8c8fc" stroke-width="1"/>
<line x1="253.38" y1="351.50" x2="253.38" y2="353.30" stroke="#c8c8fc" stroke-width="1"/>
<line x1="253.38" y1="562.10" x2="253.38" y2="560.30" stroke="#c8c8fc" stroke-width="1"/>
<line x1="260.41" y1="351.50" x2="260.41" y2="353.30" stroke="#c8c8fc" stroke-width="1"/>
<line x1="260.41" y1="562.10" x2="260.41" y2="560.30" stroke="#c8c8fc" stroke-width="1"/>
<line x1="267.44" y1="351.50" x2="267.44" y2="353.30" stroke="#c8c8fc" stroke-width="1"/>
<line x1="267.44" y1="562.10" x2="267.44" y2="560.30" stroke="#c8c8fc" stroke-width="1"/>
<line x1="274.47" y1="351.50" x2="274.47" y2="353.30" stroke="#c8c8fc" stroke-width="1"/>
<line x1="274.47" y1="562.10" x2="274.47" y2="560.30" stroke="#c8c8fc" stroke-width="1"/>
<text x="65.30" y="564.46" font-size="9.2" text-anchor="end" fill="#2b2b2b" stroke="#2b2b2b" stroke-width="0.15" font-family="Liberation Sans" text-rendering="geometricPrecision" textLength="15.90" lengthAdjust="spacingAndGlyphs">800</text>
<text x="65.30" y="538.14" font-size="9.2" text-anchor="end" fill="#2b2b2b" stroke="#2b2b2b" stroke-width="0.15" font-family="Liberation Sans" text-rendering="geometricPrecision" textLength="21.00" lengthAdjust="spacingAndGlyphs">1000</text>
<text x="65.30" y="511.81" font-size="9.2" text-anchor="end" fill="#2b2b2b" stroke="#2b2b2b" stroke-width="0.15" font-family="Liberation Sans" text-rendering="geometricPrecision" textLength="21.00" lengthAdjust="spacingAndGlyphs">1200</text>
<text x="65.30" y="485.49" font-size="9.2" text-anchor="end" fill="#2b2b2b" stroke="#2b2b2b" stroke-width="0.15" font-family="Liberation Sans" text-rendering="geometricPrecision" textLength="21.00" lengthAdjust="spacingAndGlyphs">1400</text>
<text x="65.30" y="459.16" font-size="9.2" text-anchor="end" fill="#2b2b2b" stroke="#2b2b2b" stroke-width="0.15" font-family="Liberation Sans" text-rendering="geometricPrecision" textLength="21.00" lengthAdjust="spacingAndGlyphs">1600</text>
<text x="65.30" y="432.84" font-size="9.2" text-anchor="end" fill="#2b2b2b" stroke="#2b2b2b" stroke-width="0.15" font-family="Liberation Sans" text-rendering="geometricPrecision" textLength="21.00" lengthAdjust="spacingAndGlyphs">1800</text>
<text x="65.30" y="406.51" font-size="9.2" text-anchor="end" fill="#2b2b2b" stroke="#2b2b2b" stroke-width="0.15" font-family="Liberation Sans" text-rendering="geometricPrecision" textLength="21.00" lengthAdjust="spacingAndGlyphs">2000</text>
<text x="65.30" y="380.19" font-size="9.2" text-anchor="end" fill="#2b2b2b" stroke="#2b2b2b" stroke-width="0.15" font-family="Liberation Sans" text-rendering="geometricPrecision" textLength="21.00" lengthAdjust="spacingAndGlyphs">2200</text>
<text x="65.30" y="353.86" font-size="9.2" text-anchor="end" fill="#2b2b2b" stroke="#2b2b2b" stroke-width="0.15" font-family="Liberation Sans" text-rendering="geometricPrecision" textLength="21.00" lengthAdjust="spacingAndGlyphs">2400</text>
<text x="174.50" y="340.60" font-size="9.4" text-anchor="middle" fill="#2b2b2b" stroke="#2b2b2b" stroke-width="0.15" font-family="Liberation Sans" text-rendering="geometricPrecision" textLength="122.00" lengthAdjust="spacingAndGlyphs">Annual high flow once in 10 yrs</text>
<text x="37.10" y="457.10" font-size="9.8" text-anchor="middle" fill="#2b2b2b" stroke="#2b2b2b" stroke-width="0.15" font-family="Liberation Sans" text-rendering="geometricPrecision" textLength="26.30" lengthAdjust="spacingAndGlyphs" transform="rotate(-90 37.10 457.10)">[m<tspan dy="-3.8" font-size="6">3</tspan><tspan dy="3.8">/s]</tspan></text>
<text x="102.45" y="569.00" font-size="9.3" text-anchor="start" fill="#2b2b2b" stroke="#2b2b2b" stroke-width="0.15" font-family="Liberation Sans" text-rendering="geometricPrecision" textLength="15.60" lengthAdjust="spacingAndGlyphs" transform="rotate(90 102.45 569.00)">20C</text>
<text x="137.60" y="569.00" font-size="9.3" text-anchor="start" fill="#2b2b2b" stroke="#2b2b2b" stroke-width="0.15" font-family="Liberation Sans" text-rendering="geometricPrecision" textLength="52.30" lengthAdjust="spacingAndGlyphs" transform="rotate(90 137.60 569.00)">2050-RCP4.5</text>
<text x="172.75" y="569.00" font-size="9.3" text-anchor="start" fill="#2b2b2b" stroke="#2b2b2b" stroke-width="0.15" font-family="Liberation Sans" text-rendering="geometricPrecision" textLength="52.30" lengthAdjust="spacingAndGlyphs" transform="rotate(90 172.75 569.00)">2050-RCP8.5</text>
<text x="207.90" y="569.00" font-size="9.3" text-anchor="start" fill="#2b2b2b" stroke="#2b2b2b" stroke-width="0.15" font-family="Liberation Sans" text-rendering="geometricPrecision" textLength="52.30" lengthAdjust="spacingAndGlyphs" transform="rotate(90 207.90 569.00)">2090-RCP4.5</text>
<text x="243.05" y="569.00" font-size="9.3" text-anchor="start" fill="#2b2b2b" stroke="#2b2b2b" stroke-width="0.15" font-family="Liberation Sans" text-rendering="geometricPrecision" textLength="52.30" lengthAdjust="spacingAndGlyphs" transform="rotate(90 243.05 569.00)">2090-RCP8.5</text>
<rect x="74.20" y="355.00" width="58.60" height="40.20" fill="#fff" stroke="#6e6e6e" stroke-width="1.15"/>
<circle cx="89.10" cy="362.60" r="4.30" fill="#000"/>
<polygon points="85.60,367.90 92.60,367.90 89.10,373.70" fill="#fff" stroke="rgba(70,120,255,0.36)" stroke-width="1.0" stroke-linejoin="miter"/>
<polygon points="85.35,376.00 92.85,376.00 89.10,382.20" fill="#0a7d0a"/>
<rect x="86.00" y="384.20" width="6.20" height="6.20" fill="#ff0000"/>
<text x="101.70" y="365.40" font-size="8.0" text-anchor="start" fill="#2b2b2b" stroke="#2b2b2b" stroke-width="0.15" font-family="Liberation Sans" text-rendering="geometricPrecision" textLength="12.40" lengthAdjust="spacingAndGlyphs">PRS</text>
<text x="101.70" y="373.60" font-size="8.0" text-anchor="start" fill="#4a86ff" stroke="#4a86ff" stroke-width="0.15" font-family="Liberation Sans" text-rendering="geometricPrecision" textLength="21.80" lengthAdjust="spacingAndGlyphs">AFR20</text>
<text x="101.70" y="382.10" font-size="8.0" text-anchor="start" fill="#0a7d0a" stroke="#0a7d0a" stroke-width="0.15" font-family="Liberation Sans" text-rendering="geometricPrecision" textLength="26.90" lengthAdjust="spacingAndGlyphs">AFR100</text>
<text x="101.70" y="390.40" font-size="8.0" text-anchor="start" fill="#ff2a2a" stroke="#ff2a2a" stroke-width="0.15" font-family="Liberation Sans" text-rendering="geometricPrecision" textLength="27.30" lengthAdjust="spacingAndGlyphs">SOL100</text>
<circle cx="105.75" cy="553.60" r="4.30" fill="#000"/>
<circle cx="140.90" cy="458.10" r="4.30" fill="#000"/>
<polygon points="137.40,458.80 144.40,458.80 140.90,464.60" fill="#fff" stroke="rgba(70,120,255,0.36)" stroke-width="1.0" stroke-linejoin="miter"/>
<polygon points="137.15,461.80 144.65,461.80 140.90,468.00" fill="#0a7d0a"/>
<rect x="137.80" y="468.40" width="6.20" height="6.20" fill="#ff0000"/>
<circle cx="176.05" cy="426.70" r="4.30" fill="#000"/>
<polygon points="172.55,427.40 179.55,427.40 176.05,433.20" fill="#fff" stroke="rgba(70,120,255,0.36)" stroke-width="1.0" stroke-linejoin="miter"/>
<polygon points="172.30,431.50 179.80,431.50 176.05,437.70" fill="#0a7d0a"/>
<rect x="172.95" y="438.50" width="6.20" height="6.20" fill="#ff0000"/>
<circle cx="211.20" cy="411.60" r="4.30" fill="#000"/>
<polygon points="207.70,412.30 214.70,412.30 211.20,418.10" fill="#fff" stroke="rgba(70,120,255,0.36)" stroke-width="1.0" stroke-linejoin="miter"/>
<polygon points="207.45,416.70 214.95,416.70 211.20,422.90" fill="#0a7d0a"/>
<rect x="208.10" y="423.40" width="6.20" height="6.20" fill="#ff0000"/>
<circle cx="246.35" cy="366.30" r="4.30" fill="#000"/>
<polygon points="242.85,367.00 249.85,367.00 246.35,372.80" fill="#fff" stroke="rgba(70,120,255,0.36)" stroke-width="1.0" stroke-linejoin="miter"/>
<polygon points="242.60,371.00 250.10,371.00 246.35,377.20" fill="#0a7d0a"/>
<rect x="243.25" y="377.30" width="6.20" height="6.20" fill="#ff0000"/>
<text x="1.00" y="623.00" font-size="17.6" text-anchor="start" fill="#111" stroke="#111" stroke-width="0.15" font-family="Liberation Serif" text-rendering="geometricPrecision">(b)</text>
<line x1="403.98" y1="343.10" x2="403.98" y2="565.20" stroke="#e4e4fe" stroke-width="1"/>
<line x1="439.77" y1="343.10" x2="439.77" y2="565.20" stroke="#e4e4fe" stroke-width="1"/>
<line x1="475.55" y1="343.10" x2="475.55" y2="565.20" stroke="#e4e4fe" stroke-width="1"/>
<line x1="511.33" y1="343.10" x2="511.33" y2="565.20" stroke="#e4e4fe" stroke-width="1"/>
<line x1="547.12" y1="343.10" x2="547.12" y2="565.20" stroke="#e4e4fe" stroke-width="1"/>
<line x1="368.20" y1="534.96" x2="582.90" y2="534.96" stroke="#e4e4fe" stroke-width="1"/>
<line x1="368.20" y1="508.02" x2="582.90" y2="508.02" stroke="#e4e4fe" stroke-width="1"/>
<line x1="368.20" y1="481.09" x2="582.90" y2="481.09" stroke="#e4e4fe" stroke-width="1"/>
<line x1="368.20" y1="454.15" x2="582.90" y2="454.15" stroke="#e4e4fe" stroke-width="1"/>
<line x1="368.20" y1="427.21" x2="582.90" y2="427.21" stroke="#e4e4fe" stroke-width="1"/>
<line x1="368.20" y1="400.27" x2="582.90" y2="400.27" stroke="#e4e4fe" stroke-width="1"/>
<line x1="368.20" y1="373.34" x2="582.90" y2="373.34" stroke="#e4e4fe" stroke-width="1"/>
<line x1="368.20" y1="343.10" x2="368.20" y2="565.20" stroke="#d5d5fe" stroke-width="1"/>
<line x1="582.90" y1="343.10" x2="582.90" y2="565.20" stroke="#d5d5fe" stroke-width="1"/>
<line x1="367.40" y1="346.40" x2="583.70" y2="346.40" stroke="#d5d5fe" stroke-width="1"/>
<line x1="367.40" y1="561.90" x2="583.70" y2="561.90" stroke="#d5d5fe" stroke-width="1"/>
<line x1="368.20" y1="561.90" x2="372.00" y2="561.90" stroke="#c8c8fc" stroke-width="1"/>
<line x1="582.90" y1="561.90" x2="579.10" y2="561.90" stroke="#c8c8fc" stroke-width="1"/>
<line x1="368.20" y1="534.96" x2="372.00" y2="534.96" stroke="#c8c8fc" stroke-width="1"/>
<line x1="582.90" y1="534.96" x2="579.10" y2="534.96" stroke="#c8c8fc" stroke-width="1"/>
<line x1="368.20" y1="508.02" x2="372.00" y2="508.02" stroke="#c8c8fc" stroke-width="1"/>
<line x1="582.90" y1="508.02" x2="579.10" y2="508.02" stroke="#c8c8fc" stroke-width="1"/>
<line x1="368.20" y1="481.09" x2="372.00" y2="481.09" stroke="#c8c8fc" stroke-width="1"/>
<line x1="582.90" y1="481.09" x2="579.10" y2="481.09" stroke="#c8c8fc" stroke-width="1"/>
<line x1="368.20" y1="454.15" x2="372.00" y2="454.15" stroke="#c8c8fc" stroke-width="1"/>
<line x1="582.90" y1="454.15" x2="579.10" y2="454.15" stroke="#c8c8fc" stroke-width="1"/>
<line x1="368.20" y1="427.21" x2="372.00" y2="427.21" stroke="#c8c8fc" stroke-width="1"/>
<line x1="582.90" y1="427.21" x2="579.10" y2="427.21" stroke="#c8c8fc" stroke-width="1"/>
<line x1="368.20" y1="400.27" x2="372.00" y2="400.27" stroke="#c8c8fc" stroke-width="1"/>
<line x1="582.90" y1="400.27" x2="579.10" y2="400.27" stroke="#c8c8fc" stroke-width="1"/>
<line x1="368.20" y1="373.34" x2="372.00" y2="373.34" stroke="#c8c8fc" stroke-width="1"/>
<line x1="582.90" y1="373.34" x2="579.10" y2="373.34" stroke="#c8c8fc" stroke-width="1"/>
<line x1="368.20" y1="346.40" x2="372.00" y2="346.40" stroke="#c8c8fc" stroke-width="1"/>
<line x1="582.90" y1="346.40" x2="579.10" y2="346.40" stroke="#c8c8fc" stroke-width="1"/>
<line x1="368.20" y1="343.10" x2="368.20" y2="350.20" stroke="#c8c8fc" stroke-width="1"/>
<line x1="368.20" y1="565.20" x2="368.20" y2="558.10" stroke="#c8c8fc" stroke-width="1"/>
<line x1="403.98" y1="343.10" x2="403.98" y2="350.20" stroke="#c8c8fc" stroke-width="1"/>
<line x1="403.98" y1="565.20" x2="403.98" y2="558.10" stroke="#c8c8fc" stroke-width="1"/>
<line x1="439.77" y1="343.10" x2="439.77" y2="350.20" stroke="#c8c8fc" stroke-width="1"/>
<line x1="439.77" y1="565.20" x2="439.77" y2="558.10" stroke="#c8c8fc" stroke-width="1"/>
<line x1="475.55" y1="343.10" x2="475.55" y2="350.20" stroke="#c8c8fc" stroke-width="1"/>
<line x1="475.55" y1="565.20" x2="475.55" y2="558.10" stroke="#c8c8fc" stroke-width="1"/>
<line x1="511.33" y1="343.10" x2="511.33" y2="350.20" stroke="#c8c8fc" stroke-width="1"/>
<line x1="511.33" y1="565.20" x2="511.33" y2="558.10" stroke="#c8c8fc" stroke-width="1"/>
<line x1="547.12" y1="343.10" x2="547.12" y2="350.20" stroke="#c8c8fc" stroke-width="1"/>
<line x1="547.12" y1="565.20" x2="547.12" y2="558.10" stroke="#c8c8fc" stroke-width="1"/>
<line x1="582.90" y1="343.10" x2="582.90" y2="350.20" stroke="#c8c8fc" stroke-width="1"/>
<line x1="582.90" y1="565.20" x2="582.90" y2="558.10" stroke="#c8c8fc" stroke-width="1"/>
<line x1="368.20" y1="556.51" x2="370.00" y2="556.51" stroke="#c8c8fc" stroke-width="1"/>
<line x1="582.90" y1="556.51" x2="581.10" y2="556.51" stroke="#c8c8fc" stroke-width="1"/>
<line x1="368.20" y1="551.12" x2="370.00" y2="551.12" stroke="#c8c8fc" stroke-width="1"/>
<line x1="582.90" y1="551.12" x2="581.10" y2="551.12" stroke="#c8c8fc" stroke-width="1"/>
<line x1="368.20" y1="545.74" x2="370.00" y2="545.74" stroke="#c8c8fc" stroke-width="1"/>
<line x1="582.90" y1="545.74" x2="581.10" y2="545.74" stroke="#c8c8fc" stroke-width="1"/>
<line x1="368.20" y1="540.35" x2="370.00" y2="540.35" stroke="#c8c8fc" stroke-width="1"/>
<line x1="582.90" y1="540.35" x2="581.10" y2="540.35" stroke="#c8c8fc" stroke-width="1"/>
<line x1="368.20" y1="529.57" x2="370.00" y2="529.57" stroke="#c8c8fc" stroke-width="1"/>
<line x1="582.90" y1="529.57" x2="581.10" y2="529.57" stroke="#c8c8fc" stroke-width="1"/>
<line x1="368.20" y1="524.19" x2="370.00" y2="524.19" stroke="#c8c8fc" stroke-width="1"/>
<line x1="582.90" y1="524.19" x2="581.10" y2="524.19" stroke="#c8c8fc" stroke-width="1"/>
<line x1="368.20" y1="518.80" x2="370.00" y2="518.80" stroke="#c8c8fc" stroke-width="1"/>
<line x1="582.90" y1="518.80" x2="581.10" y2="518.80" stroke="#c8c8fc" stroke-width="1"/>
<line x1="368.20" y1="513.41" x2="370.00" y2="513.41" stroke="#c8c8fc" stroke-width="1"/>
<line x1="582.90" y1="513.41" x2="581.10" y2="513.41" stroke="#c8c8fc" stroke-width="1"/>
<line x1="368.20" y1="502.64" x2="370.00" y2="502.64" stroke="#c8c8fc" stroke-width="1"/>
<line x1="582.90" y1="502.64" x2="581.10" y2="502.64" stroke="#c8c8fc" stroke-width="1"/>
<line x1="368.20" y1="497.25" x2="370.00" y2="497.25" stroke="#c8c8fc" stroke-width="1"/>
<line x1="582.90" y1="497.25" x2="581.10" y2="497.25" stroke="#c8c8fc" stroke-width="1"/>
<line x1="368.20" y1="491.86" x2="370.00" y2="491.86" stroke="#c8c8fc" stroke-width="1"/>
<line x1="582.90" y1="491.86" x2="581.10" y2="491.86" stroke="#c8c8fc" stroke-width="1"/>
<line x1="368.20" y1="486.47" x2="370.00" y2="486.47" stroke="#c8c8fc" stroke-width="1"/>
<line x1="582.90" y1="486.47" x2="581.10" y2="486.47" stroke="#c8c8fc" stroke-width="1"/>
<line x1="368.20" y1="475.70" x2="370.00" y2="475.70" stroke="#c8c8fc" stroke-width="1"/>
<line x1="582.90" y1="475.70" x2="581.10" y2="475.70" stroke="#c8c8fc" stroke-width="1"/>
<line x1="368.20" y1="470.31" x2="370.00" y2="470.31" stroke="#c8c8fc" stroke-width="1"/>
<line x1="582.90" y1="470.31" x2="581.10" y2="470.31" stroke="#c8c8fc" stroke-width="1"/>
<line x1="368.20" y1="464.92" x2="370.00" y2="464.92" stroke="#c8c8fc" stroke-width="1"/>
<line x1="582.90" y1="464.92" x2="581.10" y2="464.92" stroke="#c8c8fc" stroke-width="1"/>
<line x1="368.20" y1="459.54" x2="370.00" y2="459.54" stroke="#c8c8fc" stroke-width="1"/>
<line x1="582.90" y1="459.54" x2="581.10" y2="459.54" stroke="#c8c8fc" stroke-width="1"/>
<line x1="368.20" y1="448.76" x2="370.00" y2="448.76" stroke="#c8c8fc" stroke-width="1"/>
<line x1="582.90" y1="448.76" x2="581.10" y2="448.76" stroke="#c8c8fc" stroke-width="1"/>
<line x1="368.20" y1="443.38" x2="370.00" y2="443.38" stroke="#c8c8fc" stroke-width="1"/>
<line x1="582.90" y1="443.38" x2="581.10" y2="443.38" stroke="#c8c8fc" stroke-width="1"/>
<line x1="368.20" y1="437.99" x2="370.00" y2="437.99" stroke="#c8c8fc" stroke-width="1"/>
<line x1="582.90" y1="437.99" x2="581.10" y2="437.99" stroke="#c8c8fc" stroke-width="1"/>
<line x1="368.20" y1="432.60" x2="370.00" y2="432.60" stroke="#c8c8fc" stroke-width="1"/>
<line x1="582.90" y1="432.60" x2="581.10" y2="432.60" stroke="#c8c8fc" stroke-width="1"/>
<line x1="368.20" y1="421.82" x2="370.00" y2="421.82" stroke="#c8c8fc" stroke-width="1"/>
<line x1="582.90" y1="421.82" x2="581.10" y2="421.82" stroke="#c8c8fc" stroke-width="1"/>
<line x1="368.20" y1="416.44" x2="370.00" y2="416.44" stroke="#c8c8fc" stroke-width="1"/>
<line x1="582.90" y1="416.44" x2="581.10" y2="416.44" stroke="#c8c8fc" stroke-width="1"/>
<line x1="368.20" y1="411.05" x2="370.00" y2="411.05" stroke="#c8c8fc" stroke-width="1"/>
<line x1="582.90" y1="411.05" x2="581.10" y2="411.05" stroke="#c8c8fc" stroke-width="1"/>
<line x1="368.20" y1="405.66" x2="370.00" y2="405.66" stroke="#c8c8fc" stroke-width="1"/>
<line x1="582.90" y1="405.66" x2="581.10" y2="405.66" stroke="#c8c8fc" stroke-width="1"/>
<line x1="368.20" y1="394.89" x2="370.00" y2="394.89" stroke="#c8c8fc" stroke-width="1"/>
<line x1="582.90" y1="394.89" x2="581.10" y2="394.89" stroke="#c8c8fc" stroke-width="1"/>
<line x1="368.20" y1="389.50" x2="370.00" y2="389.50" stroke="#c8c8fc" stroke-width="1"/>
<line x1="582.90" y1="389.50" x2="581.10" y2="389.50" stroke="#c8c8fc" stroke-width="1"/>
<line x1="368.20" y1="384.11" x2="370.00" y2="384.11" stroke="#c8c8fc" stroke-width="1"/>
<line x1="582.90" y1="384.11" x2="581.10" y2="384.11" stroke="#c8c8fc" stroke-width="1"/>
<line x1="368.20" y1="378.73" x2="370.00" y2="378.73" stroke="#c8c8fc" stroke-width="1"/>
<line x1="582.90" y1="378.73" x2="581.10" y2="378.73" stroke="#c8c8fc" stroke-width="1"/>
<line x1="368.20" y1="367.95" x2="370.00" y2="367.95" stroke="#c8c8fc" stroke-width="1"/>
<line x1="582.90" y1="367.95" x2="581.10" y2="367.95" stroke="#c8c8fc" stroke-width="1"/>
<line x1="368.20" y1="362.56" x2="370.00" y2="362.56" stroke="#c8c8fc" stroke-width="1"/>
<line x1="582.90" y1="362.56" x2="581.10" y2="362.56" stroke="#c8c8fc" stroke-width="1"/>
<line x1="368.20" y1="357.17" x2="370.00" y2="357.17" stroke="#c8c8fc" stroke-width="1"/>
<line x1="582.90" y1="357.17" x2="581.10" y2="357.17" stroke="#c8c8fc" stroke-width="1"/>
<line x1="368.20" y1="351.79" x2="370.00" y2="351.79" stroke="#c8c8fc" stroke-width="1"/>
<line x1="582.90" y1="351.79" x2="581.10" y2="351.79" stroke="#c8c8fc" stroke-width="1"/>
<line x1="375.36" y1="346.40" x2="375.36" y2="348.20" stroke="#c8c8fc" stroke-width="1"/>
<line x1="375.36" y1="561.90" x2="375.36" y2="560.10" stroke="#c8c8fc" stroke-width="1"/>
<line x1="382.51" y1="346.40" x2="382.51" y2="348.20" stroke="#c8c8fc" stroke-width="1"/>
<line x1="382.51" y1="561.90" x2="382.51" y2="560.10" stroke="#c8c8fc" stroke-width="1"/>
<line x1="389.67" y1="346.40" x2="389.67" y2="348.20" stroke="#c8c8fc" stroke-width="1"/>
<line x1="389.67" y1="561.90" x2="389.67" y2="560.10" stroke="#c8c8fc" stroke-width="1"/>
<line x1="396.83" y1="346.40" x2="396.83" y2="348.20" stroke="#c8c8fc" stroke-width="1"/>
<line x1="396.83" y1="561.90" x2="396.83" y2="560.10" stroke="#c8c8fc" stroke-width="1"/>
<line x1="411.14" y1="346.40" x2="411.14" y2="348.20" stroke="#c8c8fc" stroke-width="1"/>
<line x1="411.14" y1="561.90" x2="411.14" y2="560.10" stroke="#c8c8fc" stroke-width="1"/>
<line x1="418.30" y1="346.40" x2="418.30" y2="348.20" stroke="#c8c8fc" stroke-width="1"/>
<line x1="418.30" y1="561.90" x2="418.30" y2="560.10" stroke="#c8c8fc" stroke-width="1"/>
<line x1="425.45" y1="346.40" x2="425.45" y2="348.20" stroke="#c8c8fc" stroke-width="1"/>
<line x1="425.45" y1="561.90" x2="425.45" y2="560.10" stroke="#c8c8fc" stroke-width="1"/>
<line x1="432.61" y1="346.40" x2="432.61" y2="348.20" stroke="#c8c8fc" stroke-width="1"/>
<line x1="432.61" y1="561.90" x2="432.61" y2="560.10" stroke="#c8c8fc" stroke-width="1"/>
<line x1="446.92" y1="346.40" x2="446.92" y2="348.20" stroke="#c8c8fc" stroke-width="1"/>
<line x1="446.92" y1="561.90" x2="446.92" y2="560.10" stroke="#c8c8fc" stroke-width="1"/>
<line x1="454.08" y1="346.40" x2="454.08" y2="348.20" stroke="#c8c8fc" stroke-width="1"/>
<line x1="454.08" y1="561.90" x2="454.08" y2="560.10" stroke="#c8c8fc" stroke-width="1"/>
<line x1="461.24" y1="346.40" x2="461.24" y2="348.20" stroke="#c8c8fc" stroke-width="1"/>
<line x1="461.24" y1="561.90" x2="461.24" y2="560.10" stroke="#c8c8fc" stroke-width="1"/>
<line x1="468.39" y1="346.40" x2="468.39" y2="348.20" stroke="#c8c8fc" stroke-width="1"/>
<line x1="468.39" y1="561.90" x2="468.39" y2="560.10" stroke="#c8c8fc" stroke-width="1"/>
<line x1="482.71" y1="346.40" x2="482.71" y2="348.20" stroke="#c8c8fc" stroke-width="1"/>
<line x1="482.71" y1="561.90" x2="482.71" y2="560.10" stroke="#c8c8fc" stroke-width="1"/>
<line x1="489.86" y1="346.40" x2="489.86" y2="348.20" stroke="#c8c8fc" stroke-width="1"/>
<line x1="489.86" y1="561.90" x2="489.86" y2="560.10" stroke="#c8c8fc" stroke-width="1"/>
<line x1="497.02" y1="346.40" x2="497.02" y2="348.20" stroke="#c8c8fc" stroke-width="1"/>
<line x1="497.02" y1="561.90" x2="497.02" y2="560.10" stroke="#c8c8fc" stroke-width="1"/>
<line x1="504.18" y1="346.40" x2="504.18" y2="348.20" stroke="#c8c8fc" stroke-width="1"/>
<line x1="504.18" y1="561.90" x2="504.18" y2="560.10" stroke="#c8c8fc" stroke-width="1"/>
<line x1="518.49" y1="346.40" x2="518.49" y2="348.20" stroke="#c8c8fc" stroke-width="1"/>
<line x1="518.49" y1="561.90" x2="518.49" y2="560.10" stroke="#c8c8fc" stroke-width="1"/>
<line x1="525.65" y1="346.40" x2="525.65" y2="348.20" stroke="#c8c8fc" stroke-width="1"/>
<line x1="525.65" y1="561.90" x2="525.65" y2="560.10" stroke="#c8c8fc" stroke-width="1"/>
<line x1="532.80" y1="346.40" x2="532.80" y2="348.20" stroke="#c8c8fc" stroke-width="1"/>
<line x1="532.80" y1="561.90" x2="532.80" y2="560.10" stroke="#c8c8fc" stroke-width="1"/>
<line x1="539.96" y1="346.40" x2="539.96" y2="348.20" stroke="#c8c8fc" stroke-width="1"/>
<line x1="539.96" y1="561.90" x2="539.96" y2="560.10" stroke="#c8c8fc" stroke-width="1"/>
<line x1="554.27" y1="346.40" x2="554.27" y2="348.20" stroke="#c8c8fc" stroke-width="1"/>
<line x1="554.27" y1="561.90" x2="554.27" y2="560.10" stroke="#c8c8fc" stroke-width="1"/>
<line x1="561.43" y1="346.40" x2="561.43" y2="348.20" stroke="#c8c8fc" stroke-width="1"/>
<line x1="561.43" y1="561.90" x2="561.43" y2="560.10" stroke="#c8c8fc" stroke-width="1"/>
<line x1="568.59" y1="346.40" x2="568.59" y2="348.20" stroke="#c8c8fc" stroke-width="1"/>
<line x1="568.59" y1="561.90" x2="568.59" y2="560.10" stroke="#c8c8fc" stroke-width="1"/>
<line x1="575.74" y1="346.40" x2="575.74" y2="348.20" stroke="#c8c8fc" stroke-width="1"/>
<line x1="575.74" y1="561.90" x2="575.74" y2="560.10" stroke="#c8c8fc" stroke-width="1"/>
<text x="362.90" y="564.41" font-size="9.6" text-anchor="end" fill="#2b2b2b" stroke="#2b2b2b" stroke-width="0.15" font-family="Liberation Sans" text-rendering="geometricPrecision" textLength="16.40" lengthAdjust="spacingAndGlyphs">400</text>
<text x="362.90" y="537.47" font-size="9.6" text-anchor="end" fill="#2b2b2b" stroke="#2b2b2b" stroke-width="0.15" font-family="Liberation Sans" text-rendering="geometricPrecision" textLength="16.40" lengthAdjust="spacingAndGlyphs">500</text>
<text x="362.90" y="510.53" font-size="9.6" text-anchor="end" fill="#2b2b2b" stroke="#2b2b2b" stroke-width="0.15" font-family="Liberation Sans" text-rendering="geometricPrecision" textLength="16.40" lengthAdjust="spacingAndGlyphs">600</text>
<text x="362.90" y="483.59" font-size="9.6" text-anchor="end" fill="#2b2b2b" stroke="#2b2b2b" stroke-width="0.15" font-family="Liberation Sans" text-rendering="geometricPrecision" textLength="16.40" lengthAdjust="spacingAndGlyphs">700</text>
<text x="362.90" y="456.66" font-size="9.6" text-anchor="end" fill="#2b2b2b" stroke="#2b2b2b" stroke-width="0.15" font-family="Liberation Sans" text-rendering="geometricPrecision" textLength="16.40" lengthAdjust="spacingAndGlyphs">800</text>
<text x="362.90" y="429.72" font-size="9.6" text-anchor="end" fill="#2b2b2b" stroke="#2b2b2b" stroke-width="0.15" font-family="Liberation Sans" text-rendering="geometricPrecision" textLength="16.40" lengthAdjust="spacingAndGlyphs">900</text>
<text x="362.90" y="402.78" font-size="9.6" text-anchor="end" fill="#2b2b2b" stroke="#2b2b2b" stroke-width="0.15" font-family="Liberation Sans" text-rendering="geometricPrecision" textLength="22.00" lengthAdjust="spacingAndGlyphs">1000</text>
<text x="362.90" y="375.84" font-size="9.6" text-anchor="end" fill="#2b2b2b" stroke="#2b2b2b" stroke-width="0.15" font-family="Liberation Sans" text-rendering="geometricPrecision" textLength="22.00" lengthAdjust="spacingAndGlyphs">1100</text>
<text x="362.90" y="348.91" font-size="9.6" text-anchor="end" fill="#2b2b2b" stroke="#2b2b2b" stroke-width="0.15" font-family="Liberation Sans" text-rendering="geometricPrecision" textLength="22.00" lengthAdjust="spacingAndGlyphs">1200</text>
<text x="476.40" y="336.50" font-size="9.4" text-anchor="middle" fill="#2b2b2b" stroke="#2b2b2b" stroke-width="0.15" font-family="Liberation Sans" text-rendering="geometricPrecision" textLength="116.00" lengthAdjust="spacingAndGlyphs">Annual low flow once in10yrs</text>
<text x="334.30" y="454.45" font-size="9.8" text-anchor="middle" fill="#2b2b2b" stroke="#2b2b2b" stroke-width="0.15" font-family="Liberation Sans" text-rendering="geometricPrecision" textLength="26.30" lengthAdjust="spacingAndGlyphs" transform="rotate(-90 334.30 454.45)">[m<tspan dy="-3.8" font-size="6">3</tspan><tspan dy="3.8">/s]</tspan></text>
<text x="400.61" y="568.20" font-size="9.5" text-anchor="start" fill="#2b2b2b" stroke="#2b2b2b" stroke-width="0.15" font-family="Liberation Sans" text-rendering="geometricPrecision" textLength="16.00" lengthAdjust="spacingAndGlyphs" transform="rotate(90 400.61 568.20)">20C</text>
<text x="436.39" y="568.20" font-size="9.5" text-anchor="start" fill="#2b2b2b" stroke="#2b2b2b" stroke-width="0.15" font-family="Liberation Sans" text-rendering="geometricPrecision" textLength="53.60" lengthAdjust="spacingAndGlyphs" transform="rotate(90 436.39 568.20)">2050-RCP4.5</text>
<text x="472.18" y="568.20" font-size="9.5" text-anchor="start" fill="#2b2b2b" stroke="#2b2b2b" stroke-width="0.15" font-family="Liberation Sans" text-rendering="geometricPrecision" textLength="53.60" lengthAdjust="spacingAndGlyphs" transform="rotate(90 472.18 568.20)">2050-RCP8.5</text>
<text x="507.96" y="568.20" font-size="9.5" text-anchor="start" fill="#2b2b2b" stroke="#2b2b2b" stroke-width="0.15" font-family="Liberation Sans" text-rendering="geometricPrecision" textLength="53.60" lengthAdjust="spacingAndGlyphs" transform="rotate(90 507.96 568.20)">2090-RCP4.5</text>
<text x="543.74" y="568.20" font-size="9.5" text-anchor="start" fill="#2b2b2b" stroke="#2b2b2b" stroke-width="0.15" font-family="Liberation Sans" text-rendering="geometricPrecision" textLength="53.60" lengthAdjust="spacingAndGlyphs" transform="rotate(90 543.74 568.20)">2090-RCP8.5</text>
<rect x="371.40" y="348.50" width="64.70" height="46.50" fill="#fff" stroke="#6e6e6e" stroke-width="1.15"/>
<circle cx="386.90" cy="357.40" r="4.40" fill="#000"/>
<polygon points="383.40,363.90 390.40,363.90 386.90,369.70" fill="#fff" stroke="rgba(70,120,255,0.36)" stroke-width="1.0" stroke-linejoin="miter"/>
<polygon points="383.15,373.40 390.65,373.40 386.90,379.60" fill="#0a7d0a"/>
<rect x="383.75" y="383.05" width="6.30" height="6.30" fill="#ff0000"/>
<text x="399.20" y="360.60" font-size="9.2" text-anchor="start" fill="#2b2b2b" stroke="#2b2b2b" stroke-width="0.15" font-family="Liberation Sans" text-rendering="geometricPrecision" textLength="14.80" lengthAdjust="spacingAndGlyphs">PRS</text>
<text x="399.20" y="370.10" font-size="9.2" text-anchor="start" fill="#4a86ff" stroke="#4a86ff" stroke-width="0.15" font-family="Liberation Sans" text-rendering="geometricPrecision" textLength="26.20" lengthAdjust="spacingAndGlyphs">AFR20</text>
<text x="399.20" y="379.90" font-size="9.2" text-anchor="start" fill="#0a7d0a" stroke="#0a7d0a" stroke-width="0.15" font-family="Liberation Sans" text-rendering="geometricPrecision" textLength="32.50" lengthAdjust="spacingAndGlyphs">AFR100</text>
<text x="399.20" y="389.60" font-size="9.2" text-anchor="start" fill="#ff2a2a" stroke="#ff2a2a" stroke-width="0.15" font-family="Liberation Sans" text-rendering="geometricPrecision" textLength="32.80" lengthAdjust="spacingAndGlyphs">SOL100</text>
<circle cx="403.98" cy="556.10" r="4.30" fill="#000"/>
<circle cx="439.77" cy="461.00" r="4.30" fill="#000"/>
<polygon points="436.27,464.40 443.27,464.40 439.77,470.20" fill="#fff" stroke="rgba(70,120,255,0.36)" stroke-width="1.0" stroke-linejoin="miter"/>
<polygon points="436.02,476.40 443.52,476.40 439.77,482.60" fill="#0a7d0a"/>
<rect x="436.67" y="495.70" width="6.20" height="6.20" fill="#ff0000"/>
<circle cx="475.55" cy="433.10" r="4.30" fill="#000"/>
<polygon points="472.05,436.30 479.05,436.30 475.55,442.10" fill="#fff" stroke="rgba(70,120,255,0.36)" stroke-width="1.0" stroke-linejoin="miter"/>
<polygon points="471.80,447.60 479.30,447.60 475.55,453.80" fill="#0a7d0a"/>
<rect x="472.45" y="464.30" width="6.20" height="6.20" fill="#ff0000"/>
<circle cx="511.33" cy="409.30" r="4.30" fill="#000"/>
<polygon points="507.83,412.60 514.83,412.60 511.33,418.40" fill="#fff" stroke="rgba(70,120,255,0.36)" stroke-width="1.0" stroke-linejoin="miter"/>
<polygon points="507.58,423.90 515.08,423.90 511.33,430.10" fill="#0a7d0a"/>
<rect x="508.23" y="442.40" width="6.20" height="6.20" fill="#ff0000"/>
<circle cx="547.12" cy="381.20" r="4.30" fill="#000"/>
<polygon points="543.62,385.10 550.62,385.10 547.12,390.90" fill="#fff" stroke="rgba(70,120,255,0.36)" stroke-width="1.0" stroke-linejoin="miter"/>
<polygon points="543.37,396.20 550.87,396.20 547.12,402.40" fill="#0a7d0a"/>
<rect x="544.02" y="413.80" width="6.20" height="6.20" fill="#ff0000"/>
<text x="298.40" y="622.70" font-size="17.6" text-anchor="start" fill="#111" stroke="#111" stroke-width="0.15" font-family="Liberation Serif" text-rendering="geometricPrecision">(c)</text>
<line x1="112.83" y1="646.70" x2="112.83" y2="865.70" stroke="#e4e4fe" stroke-width="1"/>
<line x1="148.17" y1="646.70" x2="148.17" y2="865.70" stroke="#e4e4fe" stroke-width="1"/>
<line x1="183.50" y1="646.70" x2="183.50" y2="865.70" stroke="#e4e4fe" stroke-width="1"/>
<line x1="218.83" y1="646.70" x2="218.83" y2="865.70" stroke="#e4e4fe" stroke-width="1"/>
<line x1="254.17" y1="646.70" x2="254.17" y2="865.70" stroke="#e4e4fe" stroke-width="1"/>
<line x1="77.50" y1="835.85" x2="289.50" y2="835.85" stroke="#e4e4fe" stroke-width="1"/>
<line x1="77.50" y1="809.30" x2="289.50" y2="809.30" stroke="#e4e4fe" stroke-width="1"/>
<line x1="77.50" y1="782.75" x2="289.50" y2="782.75" stroke="#e4e4fe" stroke-width="1"/>
<line x1="77.50" y1="756.20" x2="289.50" y2="756.20" stroke="#e4e4fe" stroke-width="1"/>
<line x1="77.50" y1="729.65" x2="289.50" y2="729.65" stroke="#e4e4fe" stroke-width="1"/>
<line x1="77.50" y1="703.10" x2="289.50" y2="703.10" stroke="#e4e4fe" stroke-width="1"/>
<line x1="77.50" y1="676.55" x2="289.50" y2="676.55" stroke="#e4e4fe" stroke-width="1"/>
<line x1="77.50" y1="646.70" x2="77.50" y2="865.70" stroke="#d5d5fe" stroke-width="1"/>
<line x1="289.50" y1="646.70" x2="289.50" y2="865.70" stroke="#d5d5fe" stroke-width="1"/>
<line x1="76.70" y1="650.00" x2="290.30" y2="650.00" stroke="#d5d5fe" stroke-width="1"/>
<line x1="76.70" y1="862.40" x2="290.30" y2="862.40" stroke="#d5d5fe" stroke-width="1"/>
<line x1="77.50" y1="862.40" x2="81.30" y2="862.40" stroke="#c8c8fc" stroke-width="1"/>
<line x1="289.50" y1="862.40" x2="285.70" y2="862.40" stroke="#c8c8fc" stroke-width="1"/>
<line x1="77.50" y1="835.85" x2="81.30" y2="835.85" stroke="#c8c8fc" stroke-width="1"/>
<line x1="289.50" y1="835.85" x2="285.70" y2="835.85" stroke="#c8c8fc" stroke-width="1"/>
<line x1="77.50" y1="809.30" x2="81.30" y2="809.30" stroke="#c8c8fc" stroke-width="1"/>
<line x1="289.50" y1="809.30" x2="285.70" y2="809.30" stroke="#c8c8fc" stroke-width="1"/>
<line x1="77.50" y1="782.75" x2="81.30" y2="782.75" stroke="#c8c8fc" stroke-width="1"/>
<line x1="289.50" y1="782.75" x2="285.70" y2="782.75" stroke="#c8c8fc" stroke-width="1"/>
<line x1="77.50" y1="756.20" x2="81.30" y2="756.20" stroke="#c8c8fc" stroke-width="1"/>
<line x1="289.50" y1="756.20" x2="285.70" y2="756.20" stroke="#c8c8fc" stroke-width="1"/>
<line x1="77.50" y1="729.65" x2="81.30" y2="729.65" stroke="#c8c8fc" stroke-width="1"/>
<line x1="289.50" y1="729.65" x2="285.70" y2="729.65" stroke="#c8c8fc" stroke-width="1"/>
<line x1="77.50" y1="703.10" x2="81.30" y2="703.10" stroke="#c8c8fc" stroke-width="1"/>
<line x1="289.50" y1="703.10" x2="285.70" y2="703.10" stroke="#c8c8fc" stroke-width="1"/>
<line x1="77.50" y1="676.55" x2="81.30" y2="676.55" stroke="#c8c8fc" stroke-width="1"/>
<line x1="289.50" y1="676.55" x2="285.70" y2="676.55" stroke="#c8c8fc" stroke-width="1"/>
<line x1="77.50" y1="650.00" x2="81.30" y2="650.00" stroke="#c8c8fc" stroke-width="1"/>
<line x1="289.50" y1="650.00" x2="285.70" y2="650.00" stroke="#c8c8fc" stroke-width="1"/>
<line x1="77.50" y1="646.70" x2="77.50" y2="653.80" stroke="#c8c8fc" stroke-width="1"/>
<line x1="77.50" y1="865.70" x2="77.50" y2="858.60" stroke="#c8c8fc" stroke-width="1"/>
<line x1="112.83" y1="646.70" x2="112.83" y2="653.80" stroke="#c8c8fc" stroke-width="1"/>
<line x1="112.83" y1="865.70" x2="112.83" y2="858.60" stroke="#c8c8fc" stroke-width="1"/>
<line x1="148.17" y1="646.70" x2="148.17" y2="653.80" stroke="#c8c8fc" stroke-width="1"/>
<line x1="148.17" y1="865.70" x2="148.17" y2="858.60" stroke="#c8c8fc" stroke-width="1"/>
<line x1="183.50" y1="646.70" x2="183.50" y2="653.80" stroke="#c8c8fc" stroke-width="1"/>
<line x1="183.50" y1="865.70" x2="183.50" y2="858.60" stroke="#c8c8fc" stroke-width="1"/>
<line x1="218.83" y1="646.70" x2="218.83" y2="653.80" stroke="#c8c8fc" stroke-width="1"/>
<line x1="218.83" y1="865.70" x2="218.83" y2="858.60" stroke="#c8c8fc" stroke-width="1"/>
<line x1="254.17" y1="646.70" x2="254.17" y2="653.80" stroke="#c8c8fc" stroke-width="1"/>
<line x1="254.17" y1="865.70" x2="254.17" y2="858.60" stroke="#c8c8fc" stroke-width="1"/>
<line x1="289.50" y1="646.70" x2="289.50" y2="653.80" stroke="#c8c8fc" stroke-width="1"/>
<line x1="289.50" y1="865.70" x2="289.50" y2="858.60" stroke="#c8c8fc" stroke-width="1"/>
<line x1="77.50" y1="857.09" x2="79.30" y2="857.09" stroke="#c8c8fc" stroke-width="1"/>
<line x1="289.50" y1="857.09" x2="287.70" y2="857.09" stroke="#c8c8fc" stroke-width="1"/>
<line x1="77.50" y1="851.78" x2="79.30" y2="851.78" stroke="#c8c8fc" stroke-width="1"/>
<line x1="289.50" y1="851.78" x2="287.70" y2="851.78" stroke="#c8c8fc" stroke-width="1"/>
<line x1="77.50" y1="846.47" x2="79.30" y2="846.47" stroke="#c8c8fc" stroke-width="1"/>
<line x1="289.50" y1="846.47" x2="287.70" y2="846.47" stroke="#c8c8fc" stroke-width="1"/>
<line x1="77.50" y1="841.16" x2="79.30" y2="841.16" stroke="#c8c8fc" stroke-width="1"/>
<line x1="289.50" y1="841.16" x2="287.70" y2="841.16" stroke="#c8c8fc" stroke-width="1"/>
<line x1="77.50" y1="830.54" x2="79.30" y2="830.54" stroke="#c8c8fc" stroke-width="1"/>
<line x1="289.50" y1="830.54" x2="287.70" y2="830.54" stroke="#c8c8fc" stroke-width="1"/>
<line x1="77.50" y1="825.23" x2="79.30" y2="825.23" stroke="#c8c8fc" stroke-width="1"/>
<line x1="289.50" y1="825.23" x2="287.70" y2="825.23" stroke="#c8c8fc" stroke-width="1"/>
<line x1="77.50" y1="819.92" x2="79.30" y2="819.92" stroke="#c8c8fc" stroke-width="1"/>
<line x1="289.50" y1="819.92" x2="287.70" y2="819.92" stroke="#c8c8fc" stroke-width="1"/>
<line x1="77.50" y1="814.61" x2="79.30" y2="814.61" stroke="#c8c8fc" stroke-width="1"/>
<line x1="289.50" y1="814.61" x2="287.70" y2="814.61" stroke="#c8c8fc" stroke-width="1"/>
<line x1="77.50" y1="803.99" x2="79.30" y2="803.99" stroke="#c8c8fc" stroke-width="1"/>
<line x1="289.50" y1="803.99" x2="287.70" y2="803.99" stroke="#c8c8fc" stroke-width="1"/>
<line x1="77.50" y1="798.68" x2="79.30" y2="798.68" stroke="#c8c8fc" stroke-width="1"/>
<line x1="289.50" y1="798.68" x2="287.70" y2="798.68" stroke="#c8c8fc" stroke-width="1"/>
<line x1="77.50" y1="793.37" x2="79.30" y2="793.37" stroke="#c8c8fc" stroke-width="1"/>
<line x1="289.50" y1="793.37" x2="287.70" y2="793.37" stroke="#c8c8fc" stroke-width="1"/>
<line x1="77.50" y1="788.06" x2="79.30" y2="788.06" stroke="#c8c8fc" stroke-width="1"/>
<line x1="289.50" y1="788.06" x2="287.70" y2="788.06" stroke="#c8c8fc" stroke-width="1"/>
<line x1="77.50" y1="777.44" x2="79.30" y2="777.44" stroke="#c8c8fc" stroke-width="1"/>
<line x1="289.50" y1="777.44" x2="287.70" y2="777.44" stroke="#c8c8fc" stroke-width="1"/>
<line x1="77.50" y1="772.13" x2="79.30" y2="772.13" stroke="#c8c8fc" stroke-width="1"/>
<line x1="289.50" y1="772.13" x2="287.70" y2="772.13" stroke="#c8c8fc" stroke-width="1"/>
<line x1="77.50" y1="766.82" x2="79.30" y2="766.82" stroke="#c8c8fc" stroke-width="1"/>
<line x1="289.50" y1="766.82" x2="287.70" y2="766.82" stroke="#c8c8fc" stroke-width="1"/>
<line x1="77.50" y1="761.51" x2="79.30" y2="761.51" stroke="#c8c8fc" stroke-width="1"/>
<line x1="289.50" y1="761.51" x2="287.70" y2="761.51" stroke="#c8c8fc" stroke-width="1"/>
<line x1="77.50" y1="750.89" x2="79.30" y2="750.89" stroke="#c8c8fc" stroke-width="1"/>
<line x1="289.50" y1="750.89" x2="287.70" y2="750.89" stroke="#c8c8fc" stroke-width="1"/>
<line x1="77.50" y1="745.58" x2="79.30" y2="745.58" stroke="#c8c8fc" stroke-width="1"/>
<line x1="289.50" y1="745.58" x2="287.70" y2="745.58" stroke="#c8c8fc" stroke-width="1"/>
<line x1="77.50" y1="740.27" x2="79.30" y2="740.27" stroke="#c8c8fc" stroke-width="1"/>
<line x1="289.50" y1="740.27" x2="287.70" y2="740.27" stroke="#c8c8fc" stroke-width="1"/>
<line x1="77.50" y1="734.96" x2="79.30" y2="734.96" stroke="#c8c8fc" stroke-width="1"/>
<line x1="289.50" y1="734.96" x2="287.70" y2="734.96" stroke="#c8c8fc" stroke-width="1"/>
<line x1="77.50" y1="724.34" x2="79.30" y2="724.34" stroke="#c8c8fc" stroke-width="1"/>
<line x1="289.50" y1="724.34" x2="287.70" y2="724.34" stroke="#c8c8fc" stroke-width="1"/>
<line x1="77.50" y1="719.03" x2="79.30" y2="719.03" stroke="#c8c8fc" stroke-width="1"/>
<line x1="289.50" y1="719.03" x2="287.70" y2="719.03" stroke="#c8c8fc" stroke-width="1"/>
<line x1="77.50" y1="713.72" x2="79.30" y2="713.72" stroke="#c8c8fc" stroke-width="1"/>
<line x1="289.50" y1="713.72" x2="287.70" y2="713.72" stroke="#c8c8fc" stroke-width="1"/>
<line x1="77.50" y1="708.41" x2="79.30" y2="708.41" stroke="#c8c8fc" stroke-width="1"/>
<line x1="289.50" y1="708.41" x2="287.70" y2="708.41" stroke="#c8c8fc" stroke-width="1"/>
<line x1="77.50" y1="697.79" x2="79.30" y2="697.79" stroke="#c8c8fc" stroke-width="1"/>
<line x1="289.50" y1="697.79" x2="287.70" y2="697.79" stroke="#c8c8fc" stroke-width="1"/>
<line x1="77.50" y1="692.48" x2="79.30" y2="692.48" stroke="#c8c8fc" stroke-width="1"/>
<line x1="289.50" y1="692.48" x2="287.70" y2="692.48" stroke="#c8c8fc" stroke-width="1"/>
<line x1="77.50" y1="687.17" x2="79.30" y2="687.17" stroke="#c8c8fc" stroke-width="1"/>
<line x1="289.50" y1="687.17" x2="287.70" y2="687.17" stroke="#c8c8fc" stroke-width="1"/>
<line x1="77.50" y1="681.86" x2="79.30" y2="681.86" stroke="#c8c8fc" stroke-width="1"/>
<line x1="289.50" y1="681.86" x2="287.70" y2="681.86" stroke="#c8c8fc" stroke-width="1"/>
<line x1="77.50" y1="671.24" x2="79.30" y2="671.24" stroke="#c8c8fc" stroke-width="1"/>
<line x1="289.50" y1="671.24" x2="287.70" y2="671.24" stroke="#c8c8fc" stroke-width="1"/>
<line x1="77.50" y1="665.93" x2="79.30" y2="665.93" stroke="#c8c8fc" stroke-width="1"/>
<line x1="289.50" y1="665.93" x2="287.70" y2="665.93" stroke="#c8c8fc" stroke-width="1"/>
<line x1="77.50" y1="660.62" x2="79.30" y2="660.62" stroke="#c8c8fc" stroke-width="1"/>
<line x1="289.50" y1="660.62" x2="287.70" y2="660.62" stroke="#c8c8fc" stroke-width="1"/>
<line x1="77.50" y1="655.31" x2="79.30" y2="655.31" stroke="#c8c8fc" stroke-width="1"/>
<line x1="289.50" y1="655.31" x2="287.70" y2="655.31" stroke="#c8c8fc" stroke-width="1"/>
<line x1="84.57" y1="650.00" x2="84.57" y2="651.80" stroke="#c8c8fc" stroke-width="1"/>
<line x1="84.57" y1="862.40" x2="84.57" y2="860.60" stroke="#c8c8fc" stroke-width="1"/>
<line x1="91.63" y1="650.00" x2="91.63" y2="651.80" stroke="#c8c8fc" stroke-width="1"/>
<line x1="91.63" y1="862.40" x2="91.63" y2="860.60" stroke="#c8c8fc" stroke-width="1"/>
<line x1="98.70" y1="650.00" x2="98.70" y2="651.80" stroke="#c8c8fc" stroke-width="1"/>
<line x1="98.70" y1="862.40" x2="98.70" y2="860.60" stroke="#c8c8fc" stroke-width="1"/>
<line x1="105.77" y1="650.00" x2="105.77" y2="651.80" stroke="#c8c8fc" stroke-width="1"/>
<line x1="105.77" y1="862.40" x2="105.77" y2="860.60" stroke="#c8c8fc" stroke-width="1"/>
<line x1="119.90" y1="650.00" x2="119.90" y2="651.80" stroke="#c8c8fc" stroke-width="1"/>
<line x1="119.90" y1="862.40" x2="119.90" y2="860.60" stroke="#c8c8fc" stroke-width="1"/>
<line x1="126.97" y1="650.00" x2="126.97" y2="651.80" stroke="#c8c8fc" stroke-width="1"/>
<line x1="126.97" y1="862.40" x2="126.97" y2="860.60" stroke="#c8c8fc" stroke-width="1"/>
<line x1="134.03" y1="650.00" x2="134.03" y2="651.80" stroke="#c8c8fc" stroke-width="1"/>
<line x1="134.03" y1="862.40" x2="134.03" y2="860.60" stroke="#c8c8fc" stroke-width="1"/>
<line x1="141.10" y1="650.00" x2="141.10" y2="651.80" stroke="#c8c8fc" stroke-width="1"/>
<line x1="141.10" y1="862.40" x2="141.10" y2="860.60" stroke="#c8c8fc" stroke-width="1"/>
<line x1="155.23" y1="650.00" x2="155.23" y2="651.80" stroke="#c8c8fc" stroke-width="1"/>
<line x1="155.23" y1="862.40" x2="155.23" y2="860.60" stroke="#c8c8fc" stroke-width="1"/>
<line x1="162.30" y1="650.00" x2="162.30" y2="651.80" stroke="#c8c8fc" stroke-width="1"/>
<line x1="162.30" y1="862.40" x2="162.30" y2="860.60" stroke="#c8c8fc" stroke-width="1"/>
<line x1="169.37" y1="650.00" x2="169.37" y2="651.80" stroke="#c8c8fc" stroke-width="1"/>
<line x1="169.37" y1="862.40" x2="169.37" y2="860.60" stroke="#c8c8fc" stroke-width="1"/>
<line x1="176.43" y1="650.00" x2="176.43" y2="651.80" stroke="#c8c8fc" stroke-width="1"/>
<line x1="176.43" y1="862.40" x2="176.43" y2="860.60" stroke="#c8c8fc" stroke-width="1"/>
<line x1="190.57" y1="650.00" x2="190.57" y2="651.80" stroke="#c8c8fc" stroke-width="1"/>
<line x1="190.57" y1="862.40" x2="190.57" y2="860.60" stroke="#c8c8fc" stroke-width="1"/>
<line x1="197.63" y1="650.00" x2="197.63" y2="651.80" stroke="#c8c8fc" stroke-width="1"/>
<line x1="197.63" y1="862.40" x2="197.63" y2="860.60" stroke="#c8c8fc" stroke-width="1"/>
<line x1="204.70" y1="650.00" x2="204.70" y2="651.80" stroke="#c8c8fc" stroke-width="1"/>
<line x1="204.70" y1="862.40" x2="204.70" y2="860.60" stroke="#c8c8fc" stroke-width="1"/>
<line x1="211.77" y1="650.00" x2="211.77" y2="651.80" stroke="#c8c8fc" stroke-width="1"/>
<line x1="211.77" y1="862.40" x2="211.77" y2="860.60" stroke="#c8c8fc" stroke-width="1"/>
<line x1="225.90" y1="650.00" x2="225.90" y2="651.80" stroke="#c8c8fc" stroke-width="1"/>
<line x1="225.90" y1="862.40" x2="225.90" y2="860.60" stroke="#c8c8fc" stroke-width="1"/>
<line x1="232.97" y1="650.00" x2="232.97" y2="651.80" stroke="#c8c8fc" stroke-width="1"/>
<line x1="232.97" y1="862.40" x2="232.97" y2="860.60" stroke="#c8c8fc" stroke-width="1"/>
<line x1="240.03" y1="650.00" x2="240.03" y2="651.80" stroke="#c8c8fc" stroke-width="1"/>
<line x1="240.03" y1="862.40" x2="240.03" y2="860.60" stroke="#c8c8fc" stroke-width="1"/>
<line x1="247.10" y1="650.00" x2="247.10" y2="651.80" stroke="#c8c8fc" stroke-width="1"/>
<line x1="247.10" y1="862.40" x2="247.10" y2="860.60" stroke="#c8c8fc" stroke-width="1"/>
<line x1="261.23" y1="650.00" x2="261.23" y2="651.80" stroke="#c8c8fc" stroke-width="1"/>
<line x1="261.23" y1="862.40" x2="261.23" y2="860.60" stroke="#c8c8fc" stroke-width="1"/>
<line x1="268.30" y1="650.00" x2="268.30" y2="651.80" stroke="#c8c8fc" stroke-width="1"/>
<line x1="268.30" y1="862.40" x2="268.30" y2="860.60" stroke="#c8c8fc" stroke-width="1"/>
<line x1="275.37" y1="650.00" x2="275.37" y2="651.80" stroke="#c8c8fc" stroke-width="1"/>
<line x1="275.37" y1="862.40" x2="275.37" y2="860.60" stroke="#c8c8fc" stroke-width="1"/>
<line x1="282.43" y1="650.00" x2="282.43" y2="651.80" stroke="#c8c8fc" stroke-width="1"/>
<line x1="282.43" y1="862.40" x2="282.43" y2="860.60" stroke="#c8c8fc" stroke-width="1"/>
<text x="72.00" y="864.80" font-size="9.3" text-anchor="end" fill="#2b2b2b" stroke="#2b2b2b" stroke-width="0.15" font-family="Liberation Sans" text-rendering="geometricPrecision" textLength="21.60" lengthAdjust="spacingAndGlyphs">2000</text>
<text x="72.00" y="838.25" font-size="9.3" text-anchor="end" fill="#2b2b2b" stroke="#2b2b2b" stroke-width="0.15" font-family="Liberation Sans" text-rendering="geometricPrecision" textLength="21.60" lengthAdjust="spacingAndGlyphs">2500</text>
<text x="72.00" y="811.70" font-size="9.3" text-anchor="end" fill="#2b2b2b" stroke="#2b2b2b" stroke-width="0.15" font-family="Liberation Sans" text-rendering="geometricPrecision" textLength="21.60" lengthAdjust="spacingAndGlyphs">3000</text>
<text x="72.00" y="785.15" font-size="9.3" text-anchor="end" fill="#2b2b2b" stroke="#2b2b2b" stroke-width="0.15" font-family="Liberation Sans" text-rendering="geometricPrecision" textLength="21.60" lengthAdjust="spacingAndGlyphs">3500</text>
<text x="72.00" y="758.60" font-size="9.3" text-anchor="end" fill="#2b2b2b" stroke="#2b2b2b" stroke-width="0.15" font-family="Liberation Sans" text-rendering="geometricPrecision" textLength="21.60" lengthAdjust="spacingAndGlyphs">4000</text>
<text x="72.00" y="732.05" font-size="9.3" text-anchor="end" fill="#2b2b2b" stroke="#2b2b2b" stroke-width="0.15" font-family="Liberation Sans" text-rendering="geometricPrecision" textLength="21.60" lengthAdjust="spacingAndGlyphs">4500</text>
<text x="72.00" y="705.50" font-size="9.3" text-anchor="end" fill="#2b2b2b" stroke="#2b2b2b" stroke-width="0.15" font-family="Liberation Sans" text-rendering="geometricPrecision" textLength="21.60" lengthAdjust="spacingAndGlyphs">5000</text>
<text x="72.00" y="678.95" font-size="9.3" text-anchor="end" fill="#2b2b2b" stroke="#2b2b2b" stroke-width="0.15" font-family="Liberation Sans" text-rendering="geometricPrecision" textLength="21.60" lengthAdjust="spacingAndGlyphs">5500</text>
<text x="72.00" y="652.40" font-size="9.3" text-anchor="end" fill="#2b2b2b" stroke="#2b2b2b" stroke-width="0.15" font-family="Liberation Sans" text-rendering="geometricPrecision" textLength="21.60" lengthAdjust="spacingAndGlyphs">6000</text>
<text x="184.00" y="639.20" font-size="9.4" text-anchor="middle" fill="#2b2b2b" stroke="#2b2b2b" stroke-width="0.15" font-family="Liberation Sans" text-rendering="geometricPrecision" textLength="167.50" lengthAdjust="spacingAndGlyphs">River flow in Sep. at return period of 10 yr</text>
<text x="41.10" y="756.50" font-size="9.8" text-anchor="middle" fill="#2b2b2b" stroke="#2b2b2b" stroke-width="0.15" font-family="Liberation Sans" text-rendering="geometricPrecision" textLength="26.30" lengthAdjust="spacingAndGlyphs" transform="rotate(-90 41.10 756.50)">[m<tspan dy="-3.8" font-size="6">3</tspan><tspan dy="3.8">/s]</tspan></text>
<text x="109.53" y="868.90" font-size="9.3" text-anchor="start" fill="#2b2b2b" stroke="#2b2b2b" stroke-width="0.15" font-family="Liberation Sans" text-rendering="geometricPrecision" textLength="15.60" lengthAdjust="spacingAndGlyphs" transform="rotate(90 109.53 868.90)">20C</text>
<text x="144.87" y="868.90" font-size="9.3" text-anchor="start" fill="#2b2b2b" stroke="#2b2b2b" stroke-width="0.15" font-family="Liberation Sans" text-rendering="geometricPrecision" textLength="52.50" lengthAdjust="spacingAndGlyphs" transform="rotate(90 144.87 868.90)">2050-RCP4.5</text>
<text x="180.20" y="868.90" font-size="9.3" text-anchor="start" fill="#2b2b2b" stroke="#2b2b2b" stroke-width="0.15" font-family="Liberation Sans" text-rendering="geometricPrecision" textLength="52.50" lengthAdjust="spacingAndGlyphs" transform="rotate(90 180.20 868.90)">2050-RCP8.5</text>
<text x="215.53" y="868.90" font-size="9.3" text-anchor="start" fill="#2b2b2b" stroke="#2b2b2b" stroke-width="0.15" font-family="Liberation Sans" text-rendering="geometricPrecision" textLength="52.50" lengthAdjust="spacingAndGlyphs" transform="rotate(90 215.53 868.90)">2090-RCP4.5</text>
<text x="250.87" y="868.90" font-size="9.3" text-anchor="start" fill="#2b2b2b" stroke="#2b2b2b" stroke-width="0.15" font-family="Liberation Sans" text-rendering="geometricPrecision" textLength="52.50" lengthAdjust="spacingAndGlyphs" transform="rotate(90 250.87 868.90)">2090-RCP8.5</text>
<rect x="81.20" y="655.30" width="59.20" height="40.50" fill="#fff" stroke="#6e6e6e" stroke-width="1.15"/>
<circle cx="96.00" cy="663.00" r="4.30" fill="#000"/>
<polygon points="92.50,668.20 99.50,668.20 96.00,674.00" fill="#fff" stroke="rgba(70,120,255,0.36)" stroke-width="1.0" stroke-linejoin="miter"/>
<polygon points="92.25,676.40 99.75,676.40 96.00,682.60" fill="#0a7d0a"/>
<rect x="92.90" y="685.10" width="6.20" height="6.20" fill="#ff0000"/>
<text x="108.70" y="666.10" font-size="8.0" text-anchor="start" fill="#2b2b2b" stroke="#2b2b2b" stroke-width="0.15" font-family="Liberation Sans" text-rendering="geometricPrecision" textLength="12.30" lengthAdjust="spacingAndGlyphs">PRS</text>
<text x="108.70" y="674.20" font-size="8.0" text-anchor="start" fill="#4a86ff" stroke="#4a86ff" stroke-width="0.15" font-family="Liberation Sans" text-rendering="geometricPrecision" textLength="22.20" lengthAdjust="spacingAndGlyphs">AFR20</text>
<text x="108.70" y="682.40" font-size="8.0" text-anchor="start" fill="#0a7d0a" stroke="#0a7d0a" stroke-width="0.15" font-family="Liberation Sans" text-rendering="geometricPrecision" textLength="27.30" lengthAdjust="spacingAndGlyphs">AFR100</text>
<text x="108.70" y="691.00" font-size="8.0" text-anchor="start" fill="#ff2a2a" stroke="#ff2a2a" stroke-width="0.15" font-family="Liberation Sans" text-rendering="geometricPrecision" textLength="27.40" lengthAdjust="spacingAndGlyphs">SOL100</text>
<circle cx="112.83" cy="852.60" r="4.30" fill="#000"/>
<circle cx="148.17" cy="747.80" r="4.30" fill="#000"/>
<polygon points="144.67,748.50 151.67,748.50 148.17,754.30" fill="#fff" stroke="rgba(70,120,255,0.36)" stroke-width="1.0" stroke-linejoin="miter"/>
<polygon points="144.42,753.10 151.92,753.10 148.17,759.30" fill="#0a7d0a"/>
<rect x="145.07" y="765.00" width="6.20" height="6.20" fill="#ff0000"/>
<circle cx="183.50" cy="691.90" r="4.30" fill="#000"/>
<polygon points="180.00,692.60 187.00,692.60 183.50,698.40" fill="#fff" stroke="rgba(70,120,255,0.36)" stroke-width="1.0" stroke-linejoin="miter"/>
<polygon points="179.75,698.70 187.25,698.70 183.50,704.90" fill="#0a7d0a"/>
<rect x="180.40" y="711.70" width="6.20" height="6.20" fill="#ff0000"/>
<circle cx="218.83" cy="697.80" r="4.30" fill="#000"/>
<polygon points="215.33,698.50 222.33,698.50 218.83,704.30" fill="#fff" stroke="rgba(70,120,255,0.36)" stroke-width="1.0" stroke-linejoin="miter"/>
<polygon points="215.08,703.80 222.58,703.80 218.83,710.00" fill="#0a7d0a"/>
<rect x="215.73" y="715.00" width="6.20" height="6.20" fill="#ff0000"/>
<circle cx="254.17" cy="653.30" r="4.30" fill="#000"/>
<polygon points="250.67,654.00 257.67,654.00 254.17,659.80" fill="#fff" stroke="rgba(70,120,255,0.36)" stroke-width="1.0" stroke-linejoin="miter"/>
<polygon points="250.42,658.90 257.92,658.90 254.17,665.10" fill="#0a7d0a"/>
<rect x="251.07" y="670.80" width="6.20" height="6.20" fill="#ff0000"/>
<text x="5.80" y="924.20" font-size="17.6" text-anchor="start" fill="#111" stroke="#111" stroke-width="0.15" font-family="Liberation Serif" text-rendering="geometricPrecision">(d)</text>
<line x1="407.57" y1="648.50" x2="407.57" y2="865.40" stroke="#e4e4fe" stroke-width="1"/>
<line x1="442.43" y1="648.50" x2="442.43" y2="865.40" stroke="#e4e4fe" stroke-width="1"/>
<line x1="477.30" y1="648.50" x2="477.30" y2="865.40" stroke="#e4e4fe" stroke-width="1"/>
<line x1="512.17" y1="648.50" x2="512.17" y2="865.40" stroke="#e4e4fe" stroke-width="1"/>
<line x1="547.03" y1="648.50" x2="547.03" y2="865.40" stroke="#e4e4fe" stroke-width="1"/>
<line x1="372.70" y1="809.52" x2="581.90" y2="809.52" stroke="#e4e4fe" stroke-width="1"/>
<line x1="372.70" y1="756.95" x2="581.90" y2="756.95" stroke="#e4e4fe" stroke-width="1"/>
<line x1="372.70" y1="704.38" x2="581.90" y2="704.38" stroke="#e4e4fe" stroke-width="1"/>
<line x1="372.70" y1="648.50" x2="372.70" y2="865.40" stroke="#d5d5fe" stroke-width="1"/>
<line x1="581.90" y1="648.50" x2="581.90" y2="865.40" stroke="#d5d5fe" stroke-width="1"/>
<line x1="371.90" y1="651.80" x2="582.70" y2="651.80" stroke="#d5d5fe" stroke-width="1"/>
<line x1="371.90" y1="862.10" x2="582.70" y2="862.10" stroke="#d5d5fe" stroke-width="1"/>
<line x1="372.70" y1="862.10" x2="376.50" y2="862.10" stroke="#c8c8fc" stroke-width="1"/>
<line x1="581.90" y1="862.10" x2="578.10" y2="862.10" stroke="#c8c8fc" stroke-width="1"/>
<line x1="372.70" y1="809.52" x2="376.50" y2="809.52" stroke="#c8c8fc" stroke-width="1"/>
<line x1="581.90" y1="809.52" x2="578.10" y2="809.52" stroke="#c8c8fc" stroke-width="1"/>
<line x1="372.70" y1="756.95" x2="376.50" y2="756.95" stroke="#c8c8fc" stroke-width="1"/>
<line x1="581.90" y1="756.95" x2="578.10" y2="756.95" stroke="#c8c8fc" stroke-width="1"/>
<line x1="372.70" y1="704.38" x2="376.50" y2="704.38" stroke="#c8c8fc" stroke-width="1"/>
<line x1="581.90" y1="704.38" x2="578.10" y2="704.38" stroke="#c8c8fc" stroke-width="1"/>
<line x1="372.70" y1="651.80" x2="376.50" y2="651.80" stroke="#c8c8fc" stroke-width="1"/>
<line x1="581.90" y1="651.80" x2="578.10" y2="651.80" stroke="#c8c8fc" stroke-width="1"/>
<line x1="372.70" y1="648.50" x2="372.70" y2="655.60" stroke="#c8c8fc" stroke-width="1"/>
<line x1="372.70" y1="865.40" x2="372.70" y2="858.30" stroke="#c8c8fc" stroke-width="1"/>
<line x1="407.57" y1="648.50" x2="407.57" y2="655.60" stroke="#c8c8fc" stroke-width="1"/>
<line x1="407.57" y1="865.40" x2="407.57" y2="858.30" stroke="#c8c8fc" stroke-width="1"/>
<line x1="442.43" y1="648.50" x2="442.43" y2="655.60" stroke="#c8c8fc" stroke-width="1"/>
<line x1="442.43" y1="865.40" x2="442.43" y2="858.30" stroke="#c8c8fc" stroke-width="1"/>
<line x1="477.30" y1="648.50" x2="477.30" y2="655.60" stroke="#c8c8fc" stroke-width="1"/>
<line x1="477.30" y1="865.40" x2="477.30" y2="858.30" stroke="#c8c8fc" stroke-width="1"/>
<line x1="512.17" y1="648.50" x2="512.17" y2="655.60" stroke="#c8c8fc" stroke-width="1"/>
<line x1="512.17" y1="865.40" x2="512.17" y2="858.30" stroke="#c8c8fc" stroke-width="1"/>
<line x1="547.03" y1="648.50" x2="547.03" y2="655.60" stroke="#c8c8fc" stroke-width="1"/>
<line x1="547.03" y1="865.40" x2="547.03" y2="858.30" stroke="#c8c8fc" stroke-width="1"/>
<line x1="581.90" y1="648.50" x2="581.90" y2="655.60" stroke="#c8c8fc" stroke-width="1"/>
<line x1="581.90" y1="865.40" x2="581.90" y2="858.30" stroke="#c8c8fc" stroke-width="1"/>
<line x1="372.70" y1="851.59" x2="374.50" y2="851.59" stroke="#c8c8fc" stroke-width="1"/>
<line x1="581.90" y1="851.59" x2="580.10" y2="851.59" stroke="#c8c8fc" stroke-width="1"/>
<line x1="372.70" y1="841.07" x2="374.50" y2="841.07" stroke="#c8c8fc" stroke-width="1"/>
<line x1="581.90" y1="841.07" x2="580.10" y2="841.07" stroke="#c8c8fc" stroke-width="1"/>
<line x1="372.70" y1="830.56" x2="374.50" y2="830.56" stroke="#c8c8fc" stroke-width="1"/>
<line x1="581.90" y1="830.56" x2="580.10" y2="830.56" stroke="#c8c8fc" stroke-width="1"/>
<line x1="372.70" y1="820.04" x2="374.50" y2="820.04" stroke="#c8c8fc" stroke-width="1"/>
<line x1="581.90" y1="820.04" x2="580.10" y2="820.04" stroke="#c8c8fc" stroke-width="1"/>
<line x1="372.70" y1="799.01" x2="374.50" y2="799.01" stroke="#c8c8fc" stroke-width="1"/>
<line x1="581.90" y1="799.01" x2="580.10" y2="799.01" stroke="#c8c8fc" stroke-width="1"/>
<line x1="372.70" y1="788.50" x2="374.50" y2="788.50" stroke="#c8c8fc" stroke-width="1"/>
<line x1="581.90" y1="788.50" x2="580.10" y2="788.50" stroke="#c8c8fc" stroke-width="1"/>
<line x1="372.70" y1="777.98" x2="374.50" y2="777.98" stroke="#c8c8fc" stroke-width="1"/>
<line x1="581.90" y1="777.98" x2="580.10" y2="777.98" stroke="#c8c8fc" stroke-width="1"/>
<line x1="372.70" y1="767.47" x2="374.50" y2="767.47" stroke="#c8c8fc" stroke-width="1"/>
<line x1="581.90" y1="767.47" x2="580.10" y2="767.47" stroke="#c8c8fc" stroke-width="1"/>
<line x1="372.70" y1="746.43" x2="374.50" y2="746.43" stroke="#c8c8fc" stroke-width="1"/>
<line x1="581.90" y1="746.43" x2="580.10" y2="746.43" stroke="#c8c8fc" stroke-width="1"/>
<line x1="372.70" y1="735.92" x2="374.50" y2="735.92" stroke="#c8c8fc" stroke-width="1"/>
<line x1="581.90" y1="735.92" x2="580.10" y2="735.92" stroke="#c8c8fc" stroke-width="1"/>
<line x1="372.70" y1="725.40" x2="374.50" y2="725.40" stroke="#c8c8fc" stroke-width="1"/>
<line x1="581.90" y1="725.40" x2="580.10" y2="725.40" stroke="#c8c8fc" stroke-width="1"/>
<line x1="372.70" y1="714.89" x2="374.50" y2="714.89" stroke="#c8c8fc" stroke-width="1"/>
<line x1="581.90" y1="714.89" x2="580.10" y2="714.89" stroke="#c8c8fc" stroke-width="1"/>
<line x1="372.70" y1="693.86" x2="374.50" y2="693.86" stroke="#c8c8fc" stroke-width="1"/>
<line x1="581.90" y1="693.86" x2="580.10" y2="693.86" stroke="#c8c8fc" stroke-width="1"/>
<line x1="372.70" y1="683.35" x2="374.50" y2="683.35" stroke="#c8c8fc" stroke-width="1"/>
<line x1="581.90" y1="683.35" x2="580.10" y2="683.35" stroke="#c8c8fc" stroke-width="1"/>
<line x1="372.70" y1="672.83" x2="374.50" y2="672.83" stroke="#c8c8fc" stroke-width="1"/>
<line x1="581.90" y1="672.83" x2="580.10" y2="672.83" stroke="#c8c8fc" stroke-width="1"/>
<line x1="372.70" y1="662.31" x2="374.50" y2="662.31" stroke="#c8c8fc" stroke-width="1"/>
<line x1="581.90" y1="662.31" x2="580.10" y2="662.31" stroke="#c8c8fc" stroke-width="1"/>
<line x1="379.67" y1="651.80" x2="379.67" y2="653.60" stroke="#c8c8fc" stroke-width="1"/>
<line x1="379.67" y1="862.10" x2="379.67" y2="860.30" stroke="#c8c8fc" stroke-width="1"/>
<line x1="386.65" y1="651.80" x2="386.65" y2="653.60" stroke="#c8c8fc" stroke-width="1"/>
<line x1="386.65" y1="862.10" x2="386.65" y2="860.30" stroke="#c8c8fc" stroke-width="1"/>
<line x1="393.62" y1="651.80" x2="393.62" y2="653.60" stroke="#c8c8fc" stroke-width="1"/>
<line x1="393.62" y1="862.10" x2="393.62" y2="860.30" stroke="#c8c8fc" stroke-width="1"/>
<line x1="400.59" y1="651.80" x2="400.59" y2="653.60" stroke="#c8c8fc" stroke-width="1"/>
<line x1="400.59" y1="862.10" x2="400.59" y2="860.30" stroke="#c8c8fc" stroke-width="1"/>
<line x1="414.54" y1="651.80" x2="414.54" y2="653.60" stroke="#c8c8fc" stroke-width="1"/>
<line x1="414.54" y1="862.10" x2="414.54" y2="860.30" stroke="#c8c8fc" stroke-width="1"/>
<line x1="421.51" y1="651.80" x2="421.51" y2="653.60" stroke="#c8c8fc" stroke-width="1"/>
<line x1="421.51" y1="862.10" x2="421.51" y2="860.30" stroke="#c8c8fc" stroke-width="1"/>
<line x1="428.49" y1="651.80" x2="428.49" y2="653.60" stroke="#c8c8fc" stroke-width="1"/>
<line x1="428.49" y1="862.10" x2="428.49" y2="860.30" stroke="#c8c8fc" stroke-width="1"/>
<line x1="435.46" y1="651.80" x2="435.46" y2="653.60" stroke="#c8c8fc" stroke-width="1"/>
<line x1="435.46" y1="862.10" x2="435.46" y2="860.30" stroke="#c8c8fc" stroke-width="1"/>
<line x1="449.41" y1="651.80" x2="449.41" y2="653.60" stroke="#c8c8fc" stroke-width="1"/>
<line x1="449.41" y1="862.10" x2="449.41" y2="860.30" stroke="#c8c8fc" stroke-width="1"/>
<line x1="456.38" y1="651.80" x2="456.38" y2="653.60" stroke="#c8c8fc" stroke-width="1"/>
<line x1="456.38" y1="862.10" x2="456.38" y2="860.30" stroke="#c8c8fc" stroke-width="1"/>
<line x1="463.35" y1="651.80" x2="463.35" y2="653.60" stroke="#c8c8fc" stroke-width="1"/>
<line x1="463.35" y1="862.10" x2="463.35" y2="860.30" stroke="#c8c8fc" stroke-width="1"/>
<line x1="470.33" y1="651.80" x2="470.33" y2="653.60" stroke="#c8c8fc" stroke-width="1"/>
<line x1="470.33" y1="862.10" x2="470.33" y2="860.30" stroke="#c8c8fc" stroke-width="1"/>
<line x1="484.27" y1="651.80" x2="484.27" y2="653.60" stroke="#c8c8fc" stroke-width="1"/>
<line x1="484.27" y1="862.10" x2="484.27" y2="860.30" stroke="#c8c8fc" stroke-width="1"/>
<line x1="491.25" y1="651.80" x2="491.25" y2="653.60" stroke="#c8c8fc" stroke-width="1"/>
<line x1="491.25" y1="862.10" x2="491.25" y2="860.30" stroke="#c8c8fc" stroke-width="1"/>
<line x1="498.22" y1="651.80" x2="498.22" y2="653.60" stroke="#c8c8fc" stroke-width="1"/>
<line x1="498.22" y1="862.10" x2="498.22" y2="860.30" stroke="#c8c8fc" stroke-width="1"/>
<line x1="505.19" y1="651.80" x2="505.19" y2="653.60" stroke="#c8c8fc" stroke-width="1"/>
<line x1="505.19" y1="862.10" x2="505.19" y2="860.30" stroke="#c8c8fc" stroke-width="1"/>
<line x1="519.14" y1="651.80" x2="519.14" y2="653.60" stroke="#c8c8fc" stroke-width="1"/>
<line x1="519.14" y1="862.10" x2="519.14" y2="860.30" stroke="#c8c8fc" stroke-width="1"/>
<line x1="526.11" y1="651.80" x2="526.11" y2="653.60" stroke="#c8c8fc" stroke-width="1"/>
<line x1="526.11" y1="862.10" x2="526.11" y2="860.30" stroke="#c8c8fc" stroke-width="1"/>
<line x1="533.09" y1="651.80" x2="533.09" y2="653.60" stroke="#c8c8fc" stroke-width="1"/>
<line x1="533.09" y1="862.10" x2="533.09" y2="860.30" stroke="#c8c8fc" stroke-width="1"/>
<line x1="540.06" y1="651.80" x2="540.06" y2="653.60" stroke="#c8c8fc" stroke-width="1"/>
<line x1="540.06" y1="862.10" x2="540.06" y2="860.30" stroke="#c8c8fc" stroke-width="1"/>
<line x1="554.01" y1="651.80" x2="554.01" y2="653.60" stroke="#c8c8fc" stroke-width="1"/>
<line x1="554.01" y1="862.10" x2="554.01" y2="860.30" stroke="#c8c8fc" stroke-width="1"/>
<line x1="560.98" y1="651.80" x2="560.98" y2="653.60" stroke="#c8c8fc" stroke-width="1"/>
<line x1="560.98" y1="862.10" x2="560.98" y2="860.30" stroke="#c8c8fc" stroke-width="1"/>
<line x1="567.95" y1="651.80" x2="567.95" y2="653.60" stroke="#c8c8fc" stroke-width="1"/>
<line x1="567.95" y1="862.10" x2="567.95" y2="860.30" stroke="#c8c8fc" stroke-width="1"/>
<line x1="574.93" y1="651.80" x2="574.93" y2="653.60" stroke="#c8c8fc" stroke-width="1"/>
<line x1="574.93" y1="862.10" x2="574.93" y2="860.30" stroke="#c8c8fc" stroke-width="1"/>
<text x="367.60" y="864.61" font-size="9.6" text-anchor="end" fill="#2b2b2b" stroke="#2b2b2b" stroke-width="0.15" font-family="Liberation Sans" text-rendering="geometricPrecision" textLength="16.40" lengthAdjust="spacingAndGlyphs">100</text>
<text x="367.60" y="812.03" font-size="9.6" text-anchor="end" fill="#2b2b2b" stroke="#2b2b2b" stroke-width="0.15" font-family="Liberation Sans" text-rendering="geometricPrecision" textLength="16.40" lengthAdjust="spacingAndGlyphs">150</text>
<text x="367.60" y="759.46" font-size="9.6" text-anchor="end" fill="#2b2b2b" stroke="#2b2b2b" stroke-width="0.15" font-family="Liberation Sans" text-rendering="geometricPrecision" textLength="16.40" lengthAdjust="spacingAndGlyphs">200</text>
<text x="367.60" y="706.88" font-size="9.6" text-anchor="end" fill="#2b2b2b" stroke="#2b2b2b" stroke-width="0.15" font-family="Liberation Sans" text-rendering="geometricPrecision" textLength="16.40" lengthAdjust="spacingAndGlyphs">250</text>
<text x="367.60" y="654.31" font-size="9.6" text-anchor="end" fill="#2b2b2b" stroke="#2b2b2b" stroke-width="0.15" font-family="Liberation Sans" text-rendering="geometricPrecision" textLength="16.40" lengthAdjust="spacingAndGlyphs">300</text>
<text x="477.00" y="641.60" font-size="9.4" text-anchor="middle" fill="#2b2b2b" stroke="#2b2b2b" stroke-width="0.15" font-family="Liberation Sans" text-rendering="geometricPrecision" textLength="191.50" lengthAdjust="spacingAndGlyphs">Low flow in dry months at return period of 10 yrs</text>
<text x="343.10" y="757.25" font-size="9.8" text-anchor="middle" fill="#2b2b2b" stroke="#2b2b2b" stroke-width="0.15" font-family="Liberation Sans" text-rendering="geometricPrecision" textLength="26.30" lengthAdjust="spacingAndGlyphs" transform="rotate(-90 343.10 757.25)">[m<tspan dy="-3.8" font-size="6">3</tspan><tspan dy="3.8">/s]</tspan></text>
<text x="404.19" y="869.20" font-size="9.5" text-anchor="start" fill="#2b2b2b" stroke="#2b2b2b" stroke-width="0.15" font-family="Liberation Sans" text-rendering="geometricPrecision" textLength="16.00" lengthAdjust="spacingAndGlyphs" transform="rotate(90 404.19 869.20)">20C</text>
<text x="439.06" y="869.20" font-size="9.5" text-anchor="start" fill="#2b2b2b" stroke="#2b2b2b" stroke-width="0.15" font-family="Liberation Sans" text-rendering="geometricPrecision" textLength="53.00" lengthAdjust="spacingAndGlyphs" transform="rotate(90 439.06 869.20)">2050-RCP4.5</text>
<text x="473.93" y="869.20" font-size="9.5" text-anchor="start" fill="#2b2b2b" stroke="#2b2b2b" stroke-width="0.15" font-family="Liberation Sans" text-rendering="geometricPrecision" textLength="53.00" lengthAdjust="spacingAndGlyphs" transform="rotate(90 473.93 869.20)">2050-RCP8.5</text>
<text x="508.79" y="869.20" font-size="9.5" text-anchor="start" fill="#2b2b2b" stroke="#2b2b2b" stroke-width="0.15" font-family="Liberation Sans" text-rendering="geometricPrecision" textLength="53.00" lengthAdjust="spacingAndGlyphs" transform="rotate(90 508.79 869.20)">2090-RCP4.5</text>
<text x="543.66" y="869.20" font-size="9.5" text-anchor="start" fill="#2b2b2b" stroke="#2b2b2b" stroke-width="0.15" font-family="Liberation Sans" text-rendering="geometricPrecision" textLength="53.00" lengthAdjust="spacingAndGlyphs" transform="rotate(90 543.66 869.20)">2090-RCP8.5</text>
<rect x="376.20" y="656.40" width="62.60" height="44.80" fill="#fff" stroke="#6e6e6e" stroke-width="1.15"/>
<circle cx="391.00" cy="664.60" r="4.40" fill="#000"/>
<polygon points="387.50,671.10 394.50,671.10 391.00,676.90" fill="#fff" stroke="rgba(70,120,255,0.36)" stroke-width="1.0" stroke-linejoin="miter"/>
<polygon points="387.25,680.00 394.75,680.00 391.00,686.20" fill="#0a7d0a"/>
<rect x="387.90" y="689.60" width="6.20" height="6.20" fill="#ff0000"/>
<text x="403.30" y="667.90" font-size="9.0" text-anchor="start" fill="#2b2b2b" stroke="#2b2b2b" stroke-width="0.15" font-family="Liberation Sans" text-rendering="geometricPrecision" textLength="14.00" lengthAdjust="spacingAndGlyphs">PRS</text>
<text x="403.30" y="677.30" font-size="9.0" text-anchor="start" fill="#4a86ff" stroke="#4a86ff" stroke-width="0.15" font-family="Liberation Sans" text-rendering="geometricPrecision" textLength="25.70" lengthAdjust="spacingAndGlyphs">AFR20</text>
<text x="403.30" y="686.60" font-size="9.0" text-anchor="start" fill="#0a7d0a" stroke="#0a7d0a" stroke-width="0.15" font-family="Liberation Sans" text-rendering="geometricPrecision" textLength="30.80" lengthAdjust="spacingAndGlyphs">AFR100</text>
<text x="403.30" y="696.20" font-size="9.0" text-anchor="start" fill="#ff2a2a" stroke="#ff2a2a" stroke-width="0.15" font-family="Liberation Sans" text-rendering="geometricPrecision" textLength="31.50" lengthAdjust="spacingAndGlyphs">SOL100</text>
<circle cx="407.57" cy="846.50" r="4.30" fill="#000"/>
<circle cx="442.43" cy="734.50" r="4.30" fill="#000"/>
<polygon points="438.93,735.20 445.93,735.20 442.43,741.00" fill="#fff" stroke="rgba(70,120,255,0.36)" stroke-width="1.0" stroke-linejoin="miter"/>
<polygon points="438.68,741.80 446.18,741.80 442.43,748.00" fill="#0a7d0a"/>
<rect x="439.33" y="733.70" width="6.20" height="6.20" fill="#ff0000"/>
<circle cx="477.30" cy="713.90" r="4.30" fill="#000"/>
<polygon points="473.80,714.60 480.80,714.60 477.30,720.40" fill="#fff" stroke="rgba(70,120,255,0.36)" stroke-width="1.0" stroke-linejoin="miter"/>
<polygon points="473.55,718.30 481.05,718.30 477.30,724.50" fill="#0a7d0a"/>
<rect x="474.20" y="704.90" width="6.20" height="6.20" fill="#ff0000"/>
<circle cx="512.17" cy="708.50" r="4.30" fill="#000"/>
<polygon points="508.67,709.20 515.67,709.20 512.17,715.00" fill="#fff" stroke="rgba(70,120,255,0.36)" stroke-width="1.0" stroke-linejoin="miter"/>
<polygon points="508.42,714.30 515.92,714.30 512.17,720.50" fill="#0a7d0a"/>
<rect x="509.07" y="700.50" width="6.20" height="6.20" fill="#ff0000"/>
<circle cx="547.03" cy="680.40" r="4.30" fill="#000"/>
<polygon points="543.53,681.10 550.53,681.10 547.03,686.90" fill="#fff" stroke="rgba(70,120,255,0.36)" stroke-width="1.0" stroke-linejoin="miter"/>
<polygon points="543.28,684.50 550.78,684.50 547.03,690.70" fill="#0a7d0a"/>
<rect x="543.93" y="666.80" width="6.20" height="6.20" fill="#ff0000"/>
<text x="307.00" y="923.20" font-size="17.6" text-anchor="start" fill="#111" stroke="#111" stroke-width="0.15" font-family="Liberation Serif" text-rendering="geometricPrecision">(e)</text>
</g></svg></body></html>
